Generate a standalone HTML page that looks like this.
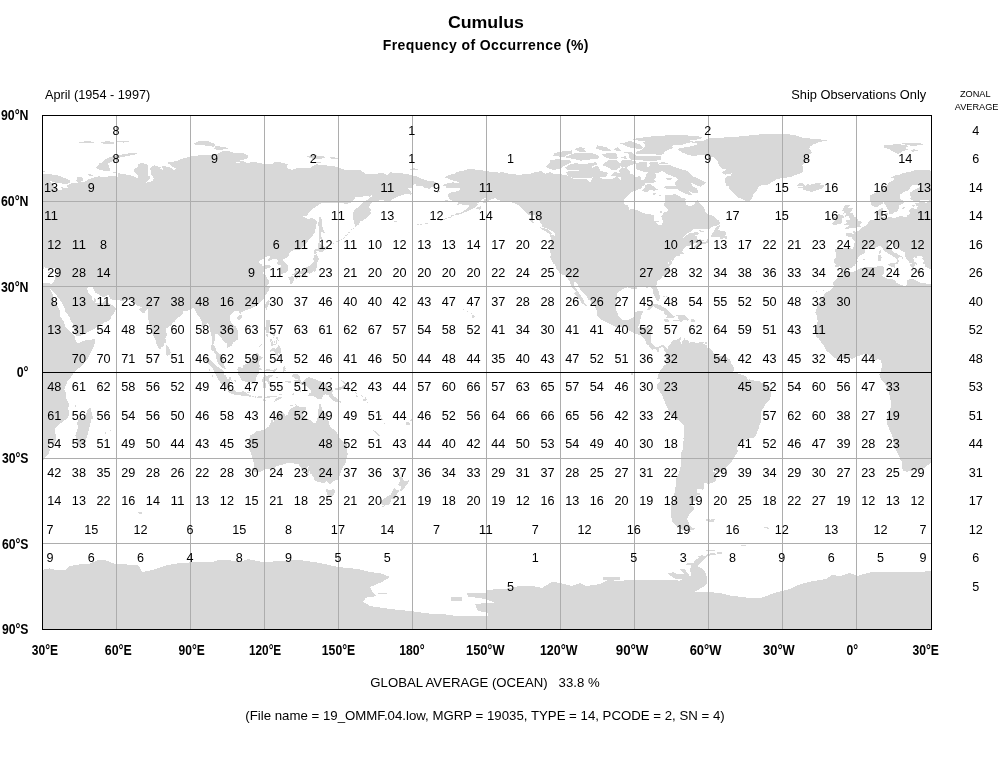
<!DOCTYPE html>
<html><head><meta charset="utf-8"><title>Cumulus</title>
<style>
html,body{margin:0;padding:0;background:#fff;}
body{width:998px;height:760px;overflow:hidden;position:relative;font-family:"Liberation Sans",sans-serif;}
svg{position:absolute;left:0;top:0;will-change:transform;}
text{font-family:"Liberation Sans",sans-serif;fill:#000;}
.num text{font-size:12px;text-anchor:middle;}
.ax text{font-size:13.8px;font-weight:bold;}
</style></head><body>
<svg width="998" height="760" viewBox="0 0 998 760">
<defs><clipPath id="c"><rect x="42.5" y="115.5" width="889.0" height="514.0"/></clipPath></defs>
<rect x="0" y="0" width="998" height="760" fill="#fff"/>
<g clip-path="url(#c)" shape-rendering="crispEdges"><path fill="#d8d8d8" d="M48.2,283.1L51.1,283.7L52.9,283.1L54.4,280.8L54.8,278.8L56.1,275.7L57.1,273.7L56.8,270.8L57.8,268.0L55.8,268.0L53.9,267.4L51.6,269.1L49.4,269.7L47.4,268.3L44.2,267.1L43.5,268.8L40.5,268.8L38.3,267.4L36.1,266.8L35.6,264.3L33.4,263.1L34.8,261.1L34.4,259.7L33.1,258.3L35.1,257.1L33.1,256.6L32.4,256.0L28.7,255.7L27.4,257.1L28.4,258.0L26.2,257.7L25.0,256.6L24.2,258.3L25.2,260.3L25.0,261.4L26.7,262.6L27.9,263.4L27.7,264.8L26.7,264.0L25.5,265.1L25.7,266.0L24.7,265.7L25.7,268.6L24.0,268.6L23.2,267.1L22.0,267.4L21.0,264.8L22.0,263.4L24.7,264.0L20.5,262.8L19.5,261.4L18.1,259.4L16.3,256.9L16.3,254.6L16.1,252.9L13.1,250.9L8.9,248.3L6.0,246.6L5.0,244.0L4.0,243.1L2.7,244.6L2.0,242.6L2.5,242.0L-1.2,242.9L-0.7,244.3L-1.2,246.0L-0.5,246.9L1.8,248.0L3.5,251.1L6.0,252.9L8.4,252.9L7.7,254.0L10.2,255.1L12.9,256.6L14.1,258.0L13.6,258.8L12.6,257.4L10.9,256.9L9.4,258.3L9.4,259.4L10.6,260.8L9.2,262.6L8.2,264.3L6.9,264.0L7.7,262.0L8.2,260.3L7.2,258.3L5.2,257.1L3.7,256.0L2.0,254.9L-1.5,253.4L-2.4,252.3L-5.7,250.0L-6.1,248.3L-7.4,246.6L-9.6,245.7L-11.3,246.9L-13.6,247.7L-17.0,249.4L-18.5,248.9L-19.7,248.6L-22.0,248.3L-24.2,249.4L-23.9,251.1L-23.4,252.0L-26.2,254.3L-28.6,255.1L-29.6,256.3L-32.3,259.7L-31.1,262.0L-32.8,263.1L-33.8,265.1L-37.0,267.7L-42.4,267.7L-44.9,269.4L-45.4,269.7L-47.1,268.3L-48.9,266.3L-51.1,266.8L-53.8,266.8L-53.3,264.0L-55.0,262.0L-54.8,260.0L-53.3,257.4L-53.1,255.1L-53.3,252.0L-54.5,250.0L-52.3,248.6L-51.1,247.4L-45.7,248.0L-41.0,248.3L-36.0,248.6L-34.8,244.9L-34.3,242.3L-34.5,240.6L-36.8,238.9L-37.3,237.4L-39.2,236.9L-42.4,236.0L-43.4,234.3L-42.4,233.4L-39.0,233.1L-36.5,233.7L-35.3,233.7L-36.0,230.6L-34.5,230.6L-34.3,231.7L-32.3,231.7L-31.3,231.2L-28.9,230.0L-27.6,227.7L-26.9,226.9L-24.4,226.3L-22.7,225.7L-21.7,224.0L-20.0,221.4L-18.2,220.3L-14.5,220.0L-13.8,219.4L-11.6,219.4L-10.1,218.6L-9.6,217.4L-10.3,215.7L-11.3,214.0L-11.6,211.2L-10.3,209.4L-5.4,207.7L-5.7,209.7L-6.1,210.9L-4.7,211.4L-6.4,212.9L-7.9,214.0L-7.9,216.0L-6.6,217.2L-4.2,217.2L-4.7,218.3L-1.7,217.7L2.0,216.6L3.7,218.6L6.9,217.7L10.4,216.3L13.6,216.0L14.6,217.2L17.6,216.9L17.6,215.7L20.5,214.3L20.5,212.3L20.3,210.3L21.5,208.6L24.2,207.7L25.7,209.2L27.9,209.4L28.9,206.3L26.7,205.2L26.4,203.5L29.4,202.6L32.6,202.3L37.6,202.6L41.3,201.2L39.3,199.5L33.9,200.0L30.2,200.6L25.2,201.7L23.5,200.3L21.0,198.9L21.8,196.9L21.0,194.3L21.5,192.3L24.2,190.6L28.4,188.0L31.1,186.9L30.6,185.2L27.9,184.6L23.2,185.2L21.0,187.7L19.8,190.0L16.1,191.5L13.4,193.2L11.4,194.3L10.9,198.6L14.3,200.6L15.1,202.3L12.9,204.0L10.6,204.9L9.7,205.7L9.7,208.0L8.9,210.9L6.9,212.3L4.5,212.6L3.7,213.7L1.3,214.3L0.3,213.7L-0.5,212.0L0.0,210.6L-2.2,208.0L-3.9,204.3L-5.4,203.2L-5.2,201.7L-6.1,203.5L-7.9,204.3L-11.3,206.6L-14.3,206.9L-17.5,204.9L-18.2,202.9L-18.7,200.0L-19.5,197.7L-19.0,195.5L-16.3,194.0L-12.6,192.3L-10.3,191.5L-7.4,190.3L-4.9,188.0L-2.0,186.0L-0.7,183.5L1.3,181.7L4.0,180.3L5.5,178.3L3.0,177.8L1.0,178.3L4.5,176.3L6.4,174.9L10.4,174.9L14.1,173.2L17.8,172.3L21.5,171.8L25.2,170.3L29.2,169.8L32.1,169.5L36.8,169.8L41.3,170.6L45.0,171.5L42.0,172.3L43.0,173.5L46.5,173.5L50.2,174.3L54.8,174.9L59.3,175.8L63.5,177.5L67.2,179.2L69.9,180.6L70.2,182.3L67.7,183.5L63.5,183.7L58.6,183.2L54.4,182.3L49.7,180.9L51.1,182.3L54.1,184.3L54.4,188.0L58.6,189.7L61.8,190.0L62.7,188.6L59.3,186.9L63.5,187.5L67.7,188.0L66.9,185.5L70.9,183.5L72.9,182.6L76.6,183.5L77.8,182.3L76.3,180.3L77.6,178.3L75.6,176.6L80.3,176.6L82.8,178.3L82.5,181.5L79.5,181.2L82.8,182.0L86.2,181.2L88.4,179.2L93.1,177.8L99.3,176.3L101.8,177.5L104.2,176.9L110.4,176.3L114.6,175.8L117.8,176.9L117.8,173.2L124.0,174.3L128.4,174.9L133.4,176.3L137.6,178.0L138.8,175.8L135.8,173.8L133.4,170.9L134.6,168.9L137.6,167.2L138.3,164.6L141.3,162.9L147.7,164.6L148.2,168.3L147.5,171.2L147.9,175.5L150.2,176.9L149.2,179.8L146.2,182.6L152.4,181.2L153.6,178.3L152.4,175.5L150.7,174.3L151.2,170.3L149.4,168.3L154.4,165.2L158.1,166.6L161.0,166.9L159.8,168.9L163.5,169.8L161.8,166.3L167.9,166.6L172.9,168.9L174.1,171.2L175.8,168.3L172.1,166.3L167.2,162.6L175.8,161.2L183.3,158.3L190.7,156.6L200.5,155.2L210.4,154.6L216.6,154.1L221.5,151.5L226.0,150.6L231.4,151.8L233.9,153.2L243.8,153.5L248.7,155.8L248.0,158.3L240.1,160.6L245.0,161.8L235.1,162.6L232.6,163.5L241.3,162.3L248.7,162.6L254.9,162.0L261.0,163.2L264.3,164.0L272.2,164.0L274.6,162.0L282.0,162.6L287.7,164.3L287.0,167.2L286.7,168.0L291.9,170.0L296.9,168.3L296.4,167.5L304.3,168.3L309.2,168.3L313.4,165.8L315.9,164.3L321.5,164.9L329.0,165.8L337.6,166.9L340.1,168.3L345.0,169.8L353.6,169.5L361.1,170.3L364.8,173.5L368.5,173.8L375.9,173.8L383.3,172.6L387.0,175.5L389.7,172.3L395.6,172.9L403.0,173.5L408.0,174.3L412.9,175.5L416.6,176.3L422.8,179.2L427.7,180.9L433.9,181.5L438.4,183.7L435.1,185.5L431.4,187.5L429.7,188.9L424.0,187.5L422.8,185.5L416.6,185.7L415.4,183.5L411.7,186.0L412.4,187.5L406.7,187.7L409.2,189.7L411.7,192.9L411.2,194.6L405.5,194.0L399.3,196.0L394.4,198.3L389.2,201.5L380.8,200.0L375.9,201.2L372.2,201.7L370.4,204.6L368.5,207.4L371.4,209.2L369.9,212.0L371.7,212.6L368.5,216.0L363.5,220.3L360.1,221.2L359.3,224.0L355.4,227.2L354.1,222.6L352.7,216.9L352.7,212.6L354.9,209.7L358.6,206.9L363.0,202.6L368.0,199.5L371.9,196.3L373.4,194.3L369.7,196.6L364.3,195.7L362.3,196.6L356.1,196.6L351.2,202.6L346.2,204.0L341.3,202.6L335.1,203.2L327.7,202.9L322.0,202.9L315.4,206.9L310.4,210.6L307.2,215.4L303.0,216.6L306.7,218.3L308.0,219.4L311.7,217.7L314.9,219.4L317.3,221.2L317.1,223.2L316.1,225.4L315.4,229.7L314.9,232.6L311.7,236.9L309.2,239.7L305.5,244.0L303.0,246.9L299.3,249.7L296.6,250.3L294.1,249.4L291.2,251.7L289.0,253.1L288.7,255.7L285.7,258.3L283.5,258.8L283.0,260.6L285.5,262.6L287.7,265.4L288.2,269.7L287.0,272.3L283.8,273.4L280.8,274.3L280.6,273.1L280.8,269.7L280.3,267.4L281.0,265.4L278.3,264.6L276.6,264.0L277.6,262.0L277.8,260.0L275.6,258.6L272.2,259.4L268.7,261.4L268.0,259.7L270.2,256.9L268.5,255.7L267.2,256.0L263.8,258.6L259.8,260.6L259.1,262.6L262.0,264.8L262.3,266.3L264.3,266.0L266.5,264.6L268.2,265.1L270.9,265.7L270.9,267.1L267.2,268.3L265.5,269.4L263.0,272.6L263.0,273.4L265.5,275.4L267.0,278.3L269.2,281.4L269.4,283.4L267.2,285.4L269.7,287.1L269.2,289.7L267.2,292.5L264.8,296.3L263.8,298.3L262.3,300.5L260.1,302.5L256.6,306.0L252.4,307.7L250.4,308.8L248.7,309.1L245.0,310.5L241.3,312.0L241.0,314.5L239.6,314.2L239.3,311.4L237.6,311.1L235.1,310.8L232.2,313.1L230.2,315.7L229.7,318.8L231.4,322.5L234.1,325.4L235.9,326.5L237.6,329.7L238.3,333.1L238.3,337.4L237.6,339.7L232.9,342.8L231.9,345.4L228.9,346.8L227.2,347.9L227.5,343.9L226.5,342.8L224.3,342.2L222.8,340.5L221.5,337.7L219.1,336.2L217.6,334.2L216.6,333.9L215.4,334.5L215.1,337.4L214.9,339.7L213.6,342.5L213.4,345.4L215.1,346.2L215.6,348.5L216.8,351.9L218.6,352.8L221.0,354.8L223.3,357.4L223.8,361.6L224.3,365.1L225.7,368.5L224.0,368.8L220.8,366.2L218.6,363.9L217.1,361.1L216.1,357.1L216.1,354.8L214.9,353.7L213.6,351.1L211.2,349.9L211.2,346.8L211.9,343.9L211.9,337.1L210.7,332.5L209.7,328.8L209.4,325.4L207.7,323.1L206.0,324.8L203.8,327.4L201.3,326.8L201.8,322.5L201.3,319.7L199.3,317.1L197.8,315.1L195.6,311.4L195.1,308.8L191.9,308.2L190.7,309.7L188.2,310.5L185.7,310.5L183.3,311.4L182.5,314.5L180.3,316.0L178.3,317.4L174.1,322.0L171.7,324.0L171.7,325.1L168.9,326.8L168.2,327.7L166.2,328.2L166.7,335.1L165.5,338.5L165.7,343.1L164.0,343.1L163.5,345.9L161.5,347.4L159.8,349.4L158.3,348.2L156.6,343.9L155.6,340.2L153.1,335.7L150.7,328.2L149.4,324.0L148.2,318.2L148.2,314.2L147.9,312.2L147.7,309.1L146.7,310.2L143.7,313.4L142.3,312.8L140.3,310.8L138.8,308.8L141.8,307.7L141.3,306.8L137.8,306.0L136.8,304.8L135.1,304.3L133.9,301.7L132.9,300.3L127.9,300.5L125.2,300.3L122.3,300.8L118.1,300.3L114.1,300.0L111.2,299.4L109.9,298.3L108.9,295.1L107.4,294.8L105.5,296.3L104.0,296.8L100.5,296.3L98.3,294.3L95.6,292.8L93.9,290.0L92.4,286.8L89.4,285.7L88.4,287.1L87.0,288.5L87.9,291.1L88.9,293.4L91.1,295.4L92.1,297.1L92.4,299.4L93.9,301.7L93.9,299.7L94.4,298.0L95.8,298.8L95.8,302.0L95.1,303.1L98.3,303.4L102.8,302.5L105.0,300.3L106.7,298.5L107.7,297.4L107.7,301.1L108.4,302.8L110.7,304.5L113.1,305.1L116.1,308.2L115.1,311.4L113.1,314.2L111.2,316.5L110.9,318.5L107.9,321.1L105.0,322.2L102.0,324.0L97.3,326.8L94.4,329.1L89.7,331.1L85.5,333.7L79.5,335.9L75.8,336.2L75.1,334.5L74.4,330.2L73.9,325.7L73.4,324.2L70.9,321.1L69.7,317.7L67.7,314.5L65.2,311.1L64.5,308.2L62.3,303.7L60.3,300.5L58.3,297.7L55.6,293.7L53.9,292.0L48.9,287.0Z M937.2,283.1L940.1,283.7L941.9,283.1L943.4,280.8L943.8,278.8L945.1,275.7L946.1,273.7L945.8,270.8L946.8,268.0L944.8,268.0L942.9,267.4L940.6,269.1L938.4,269.7L936.4,268.3L933.2,267.1L932.5,268.8L929.5,268.8L927.3,267.4L925.1,266.8L924.6,264.3L922.4,263.1L923.8,261.1L923.4,259.7L922.1,258.3L924.1,257.1L922.1,256.6L921.4,256.0L917.7,255.7L916.4,257.1L917.4,258.0L915.2,257.7L914.0,256.6L913.2,258.3L914.2,260.3L914.0,261.4L915.7,262.6L916.9,263.4L916.7,264.8L915.7,264.0L914.5,265.1L914.7,266.0L913.7,265.7L914.7,268.6L913.0,268.6L912.2,267.1L911.0,267.4L910.0,264.8L911.0,263.4L913.7,264.0L909.5,262.8L908.5,261.4L907.1,259.4L905.3,256.9L905.3,254.6L905.1,252.9L902.1,250.9L897.9,248.3L895.0,246.6L894.0,244.0L893.0,243.1L891.7,244.6L891.0,242.6L891.5,242.0L887.8,242.9L888.3,244.3L887.8,246.0L888.5,246.9L890.8,248.0L892.5,251.1L895.0,252.9L897.4,252.9L896.7,254.0L899.2,255.1L901.9,256.6L903.1,258.0L902.6,258.8L901.6,257.4L899.9,256.9L898.4,258.3L898.4,259.4L899.6,260.8L898.2,262.6L897.2,264.3L895.9,264.0L896.7,262.0L897.2,260.3L896.2,258.3L894.2,257.1L892.7,256.0L891.0,254.9L887.5,253.4L886.6,252.3L883.3,250.0L882.9,248.3L881.6,246.6L879.4,245.7L877.7,246.9L875.4,247.7L872.0,249.4L870.5,248.9L869.3,248.6L867.0,248.3L864.8,249.4L865.1,251.1L865.6,252.0L862.8,254.3L860.4,255.1L859.4,256.3L856.7,259.7L857.9,262.0L856.2,263.1L855.2,265.1L852.0,267.7L846.6,267.7L844.1,269.4L843.6,269.7L841.9,268.3L840.1,266.3L837.9,266.8L835.2,266.8L835.7,264.0L834.0,262.0L834.2,260.0L835.7,257.4L835.9,255.1L835.7,252.0L834.5,250.0L836.7,248.6L837.9,247.4L843.3,248.0L848.0,248.3L853.0,248.6L854.2,244.9L854.7,242.3L854.5,240.6L852.2,238.9L851.7,237.4L849.8,236.9L846.6,236.0L845.6,234.3L846.6,233.4L850.0,233.1L852.5,233.7L853.7,233.7L853.0,230.6L854.5,230.6L854.7,231.7L856.7,231.7L857.7,231.2L860.1,230.0L861.4,227.7L862.1,226.9L864.6,226.3L866.3,225.7L867.3,224.0L869.0,221.4L870.8,220.3L874.5,220.0L875.2,219.4L877.4,219.4L878.9,218.6L879.4,217.4L878.7,215.7L877.7,214.0L877.4,211.2L878.7,209.4L883.6,207.7L883.3,209.7L882.9,210.9L884.3,211.4L882.6,212.9L881.1,214.0L881.1,216.0L882.4,217.2L884.8,217.2L884.3,218.3L887.3,217.7L891.0,216.6L892.7,218.6L895.9,217.7L899.4,216.3L902.6,216.0L903.6,217.2L906.6,216.9L906.6,215.7L909.5,214.3L909.5,212.3L909.3,210.3L910.5,208.6L913.2,207.7L914.7,209.2L916.9,209.4L917.9,206.3L915.7,205.2L915.4,203.5L918.4,202.6L921.6,202.3L926.6,202.6L930.3,201.2L928.3,199.5L922.9,200.0L919.2,200.6L914.2,201.7L912.5,200.3L910.0,198.9L910.8,196.9L910.0,194.3L910.5,192.3L913.2,190.6L917.4,188.0L920.1,186.9L919.6,185.2L916.9,184.6L912.2,185.2L910.0,187.7L908.8,190.0L905.1,191.5L902.4,193.2L900.4,194.3L899.9,198.6L903.3,200.6L904.1,202.3L901.9,204.0L899.6,204.9L898.7,205.7L898.7,208.0L897.9,210.9L895.9,212.3L893.5,212.6L892.7,213.7L890.3,214.3L889.3,213.7L888.5,212.0L889.0,210.6L886.8,208.0L885.1,204.3L883.6,203.2L883.8,201.7L882.9,203.5L881.1,204.3L877.7,206.6L874.7,206.9L871.5,204.9L870.8,202.9L870.3,200.0L869.5,197.7L870.0,195.5L872.7,194.0L876.4,192.3L878.7,191.5L881.6,190.3L884.1,188.0L887.0,186.0L888.3,183.5L890.3,181.7L893.0,180.3L894.5,178.3L892.0,177.8L890.0,178.3L893.5,176.3L895.4,174.9L899.4,174.9L903.1,173.2L906.8,172.3L910.5,171.8L914.2,170.3L918.2,169.8L921.1,169.5L925.8,169.8L930.3,170.6L934.0,171.5L931.0,172.3L932.0,173.5L935.5,173.5L939.2,174.3L943.8,174.9L948.3,175.8L952.5,177.5L956.2,179.2L958.9,180.6L959.2,182.3L956.7,183.5L952.5,183.7L947.6,183.2L943.4,182.3L938.7,180.9L940.1,182.3L943.1,184.3L943.4,188.0L947.6,189.7L950.8,190.0L951.7,188.6L948.3,186.9L952.5,187.5L956.7,188.0L955.9,185.5L959.9,183.5L961.9,182.6L965.6,183.5L966.8,182.3L965.3,180.3L966.6,178.3L964.6,176.6L969.3,176.6L971.8,178.3L971.5,181.5L968.5,181.2L971.8,182.0L975.2,181.2L977.4,179.2L982.1,177.8L988.3,176.3L990.8,177.5L993.2,176.9L999.4,176.3L1003.6,175.8L1006.8,176.9L1006.8,173.2L1013.0,174.3L1017.4,174.9L1022.4,176.3L1026.6,178.0L1027.8,175.8L1024.8,173.8L1022.4,170.9L1023.6,168.9L1026.6,167.2L1027.3,164.6L1030.3,162.9L1036.7,164.6L1037.2,168.3L1036.5,171.2L1036.9,175.5L1039.2,176.9L1038.2,179.8L1035.2,182.6L1041.4,181.2L1042.6,178.3L1041.4,175.5L1039.7,174.3L1040.2,170.3L1038.4,168.3L1043.4,165.2L1047.1,166.6L1050.0,166.9L1048.8,168.9L1052.5,169.8L1050.8,166.3L1056.9,166.6L1061.9,168.9L1063.1,171.2L1064.8,168.3L1061.1,166.3L1056.2,162.6L1064.8,161.2L1072.3,158.3L1079.7,156.6L1089.5,155.2L1099.4,154.6L1105.6,154.1L1110.5,151.5L1115.0,150.6L1120.4,151.8L1122.9,153.2L1132.8,153.5L1137.7,155.8L1137.0,158.3L1129.1,160.6L1134.0,161.8L1124.1,162.6L1121.6,163.5L1130.3,162.3L1137.7,162.6L1143.9,162.0L1150.0,163.2L1153.3,164.0L1161.2,164.0L1163.6,162.0L1171.0,162.6L1176.7,164.3L1176.0,167.2L1175.7,168.0L1180.9,170.0L1185.9,168.3L1185.4,167.5L1193.3,168.3L1198.2,168.3L1202.4,165.8L1204.9,164.3L1210.5,164.9L1218.0,165.8L1226.6,166.9L1229.1,168.3L1234.0,169.8L1242.7,169.5L1250.1,170.3L1253.8,173.5L1257.5,173.8L1264.9,173.8L1272.3,172.6L1276.0,175.5L1278.7,172.3L1284.6,172.9L1292.0,173.5L1297.0,174.3L1301.9,175.5L1305.6,176.3L1311.8,179.2L1316.7,180.9L1322.9,181.5L1327.4,183.7L1324.1,185.5L1320.4,187.5L1318.7,188.9L1313.0,187.5L1311.8,185.5L1305.6,185.7L1304.4,183.5L1300.7,186.0L1301.4,187.5L1295.7,187.7L1298.2,189.7L1300.7,192.9L1300.2,194.6L1294.5,194.0L1288.3,196.0L1283.4,198.3L1278.2,201.5L1269.8,200.0L1264.9,201.2L1261.2,201.7L1259.4,204.6L1257.5,207.4L1260.4,209.2L1258.9,212.0L1260.7,212.6L1257.5,216.0L1252.5,220.3L1249.1,221.2L1248.3,224.0L1244.4,227.2L1243.1,222.6L1241.7,216.9L1241.7,212.6L1243.9,209.7L1247.6,206.9L1252.0,202.6L1257.0,199.5L1260.9,196.3L1262.4,194.3L1258.7,196.6L1253.3,195.7L1251.3,196.6L1245.1,196.6L1240.2,202.6L1235.2,204.0L1230.3,202.6L1224.1,203.2L1216.7,202.9L1211.0,202.9L1204.4,206.9L1199.4,210.6L1196.2,215.4L1192.0,216.6L1195.7,218.3L1197.0,219.4L1200.7,217.7L1203.9,219.4L1206.3,221.2L1206.1,223.2L1205.1,225.4L1204.4,229.7L1203.9,232.6L1200.7,236.9L1198.2,239.7L1194.5,244.0L1192.0,246.9L1188.3,249.7L1185.6,250.3L1183.1,249.4L1180.2,251.7L1178.0,253.1L1177.7,255.7L1174.7,258.3L1172.5,258.8L1172.0,260.6L1174.5,262.6L1176.7,265.4L1177.2,269.7L1176.0,272.3L1172.8,273.4L1169.8,274.3L1169.6,273.1L1169.8,269.7L1169.3,267.4L1170.0,265.4L1167.3,264.6L1165.6,264.0L1166.6,262.0L1166.8,260.0L1164.6,258.6L1161.2,259.4L1157.7,261.4L1157.0,259.7L1159.2,256.9L1157.5,255.7L1156.2,256.0L1152.8,258.6L1148.8,260.6L1148.1,262.6L1151.0,264.8L1151.3,266.3L1153.3,266.0L1155.5,264.6L1157.2,265.1L1159.9,265.7L1159.9,267.1L1156.2,268.3L1154.5,269.4L1152.0,272.6L1152.0,273.4L1154.5,275.4L1156.0,278.3L1158.2,281.4L1158.4,283.4L1156.2,285.4L1158.7,287.1L1158.2,289.7L1156.2,292.5L1153.8,296.3L1152.8,298.3L1151.3,300.5L1149.1,302.5L1145.6,306.0L1141.4,307.7L1139.4,308.8L1137.7,309.1L1134.0,310.5L1130.3,312.0L1130.0,314.5L1128.6,314.2L1128.3,311.4L1126.6,311.1L1124.1,310.8L1121.2,313.1L1119.2,315.7L1118.7,318.8L1120.4,322.5L1123.1,325.4L1124.9,326.5L1126.6,329.7L1127.3,333.1L1127.3,337.4L1126.6,339.7L1121.9,342.8L1120.9,345.4L1117.9,346.8L1116.2,347.9L1116.5,343.9L1115.5,342.8L1113.3,342.2L1111.8,340.5L1110.5,337.7L1108.1,336.2L1106.6,334.2L1105.6,333.9L1104.4,334.5L1104.1,337.4L1103.9,339.7L1102.6,342.5L1102.4,345.4L1104.1,346.2L1104.6,348.5L1105.8,351.9L1107.6,352.8L1110.0,354.8L1112.3,357.4L1112.8,361.6L1113.3,365.1L1114.7,368.5L1113.0,368.8L1109.8,366.2L1107.6,363.9L1106.1,361.1L1105.1,357.1L1105.1,354.8L1103.9,353.7L1102.6,351.1L1100.2,349.9L1100.2,346.8L1100.9,343.9L1100.9,337.1L1099.7,332.5L1098.7,328.8L1098.4,325.4L1096.7,323.1L1095.0,324.8L1092.8,327.4L1090.3,326.8L1090.8,322.5L1090.3,319.7L1088.3,317.1L1086.8,315.1L1084.6,311.4L1084.1,308.8L1080.9,308.2L1079.7,309.7L1077.2,310.5L1074.7,310.5L1072.3,311.4L1071.5,314.5L1069.3,316.0L1067.3,317.4L1063.1,322.0L1060.7,324.0L1060.7,325.1L1057.9,326.8L1057.2,327.7L1055.2,328.2L1055.7,335.1L1054.5,338.5L1054.7,343.1L1053.0,343.1L1052.5,345.9L1050.5,347.4L1048.8,349.4L1047.3,348.2L1045.6,343.9L1044.6,340.2L1042.1,335.7L1039.7,328.2L1038.4,324.0L1037.2,318.2L1037.2,314.2L1036.9,312.2L1036.7,309.1L1035.7,310.2L1032.7,313.4L1031.3,312.8L1029.3,310.8L1027.8,308.8L1030.8,307.7L1030.3,306.8L1026.8,306.0L1025.8,304.8L1024.1,304.3L1022.9,301.7L1021.9,300.3L1016.9,300.5L1014.2,300.3L1011.3,300.8L1007.1,300.3L1003.1,300.0L1000.2,299.4L998.9,298.3L997.9,295.1L996.4,294.8L994.5,296.3L993.0,296.8L989.5,296.3L987.3,294.3L984.6,292.8L982.9,290.0L981.4,286.8L978.4,285.7L977.4,287.1L976.0,288.5L976.9,291.1L977.9,293.4L980.1,295.4L981.1,297.1L981.4,299.4L982.9,301.7L982.9,299.7L983.4,298.0L984.8,298.8L984.8,302.0L984.1,303.1L987.3,303.4L991.8,302.5L994.0,300.3L995.7,298.5L996.7,297.4L996.7,301.1L997.4,302.8L999.7,304.5L1002.1,305.1L1005.1,308.2L1004.1,311.4L1002.1,314.2L1000.2,316.5L999.9,318.5L996.9,321.1L994.0,322.2L991.0,324.0L986.3,326.8L983.4,329.1L978.7,331.1L974.5,333.7L968.5,335.9L964.8,336.2L964.1,334.5L963.4,330.2L962.9,325.7L962.4,324.2L959.9,321.1L958.7,317.7L956.7,314.5L954.2,311.1L953.5,308.2L951.3,303.7L949.3,300.5L947.3,297.7L944.6,293.7L942.9,292.0L937.9,287.0Z M843.3,229.4L848.5,228.9L849.0,228.0L851.5,228.0L854.2,227.7L857.2,227.4L859.9,227.2L860.9,226.3L860.9,225.7L858.9,225.4L859.9,224.6L860.6,224.0L861.9,222.6L860.6,221.4L858.2,221.4L858.4,220.6L857.7,219.4L857.2,218.0L855.9,216.9L854.5,216.6L854.0,215.4L852.5,213.2L850.0,212.6L851.0,211.7L852.2,209.4L853.0,208.3L852.5,207.7L847.5,208.0L847.8,207.2L849.8,205.7L850.0,205.2L845.1,205.2L844.3,206.3L844.6,207.2L843.1,208.3L843.1,209.7L842.1,210.6L843.8,211.4L843.3,214.3L844.3,213.4L845.3,212.9L845.8,214.0L844.8,215.7L845.3,216.6L848.8,215.7L848.5,216.9L849.5,218.0L850.3,218.0L849.8,218.9L849.8,220.0L846.1,220.3L845.8,221.7L847.3,222.6L847.3,223.2L845.8,223.7L844.3,224.3L844.8,224.9L847.5,225.2L849.5,225.7L850.7,225.2L850.0,226.3L848.8,226.3L846.3,226.9L846.1,227.4L845.1,228.3Z M839.1,214.3L842.4,214.9L843.6,216.6L843.8,217.4L841.9,218.3L842.4,220.3L842.6,221.2L841.6,223.4L840.1,223.7L836.9,224.6L833.2,225.4L832.0,223.7L833.5,222.3L835.2,220.6L832.2,220.0L832.5,218.3L832.7,217.4L836.2,217.4L836.9,216.6L835.9,216.3L836.9,214.9Z M796.9,185.5L799.4,183.5L801.9,182.6L804.6,185.2L805.6,185.7L807.3,183.7L810.5,184.9L812.5,183.5L815.4,183.5L817.2,182.6L821.4,182.9L820.4,184.6L823.8,185.5L824.1,186.9L821.6,188.6L819.9,188.9L816.7,190.3L813.0,191.5L810.5,191.5L807.5,191.2L805.1,190.0L801.4,190.3L803.1,189.2L802.3,188.0L798.1,187.5L803.1,186.6L802.6,185.7Z M884.6,145.2L883.8,147.5L890.8,149.8L892.0,151.2L898.2,153.8L900.6,152.6L903.1,150.9L909.3,149.2L904.3,148.1L909.3,145.8L901.9,144.6L896.9,144.1L892.0,144.6Z M901.9,143.5L905.6,144.9L914.2,146.1L924.1,144.3L919.2,142.9L906.8,142.6Z M910.5,150.3L913.0,151.8L917.9,150.6L914.2,149.2Z M95.6,168.0L98.1,165.2L99.3,163.5L103.0,162.0L105.5,159.2L107.9,157.8L114.1,155.8L121.5,154.6L130.2,153.2L137.6,152.9L136.3,154.3L127.7,156.0L119.1,157.8L115.3,159.8L111.6,161.8L107.9,163.5L109.2,166.9L110.4,169.8L109.7,170.9L104.2,170.9L100.5,170.0Z M87.7,174.6L90.7,174.0L92.6,175.5L89.9,176.3Z M112.9,172.0L117.3,171.8L116.6,173.2L114.1,173.5Z M78.1,142.3L87.0,141.2L95.6,141.8L91.9,143.5L83.2,143.2Z M100.5,142.6L106.7,141.2L113.4,141.8L114.1,143.5L104.2,143.8Z M116.6,141.5L122.8,140.6L128.9,141.5L124.0,142.6Z M193.1,144.1L199.3,140.6L208.0,141.2L215.4,144.1L214.1,146.9L205.5,145.5L198.1,145.2Z M215.4,146.1L225.2,146.9L228.9,148.9L217.8,150.1L214.1,148.9Z M306.7,156.0L314.1,155.2L322.8,156.0L326.5,157.2L321.5,158.6L314.1,158.9L309.2,157.8Z M330.2,157.2L340.1,157.8L338.8,158.9L331.4,158.6Z M314.1,161.5L319.1,161.8L322.8,163.2L315.4,162.9Z M409.2,169.8L412.9,168.3L417.9,168.9L418.6,169.8L412.9,170.3Z M319.1,217.4L321.1,217.2L322.3,221.2L322.3,225.4L323.0,229.7L325.5,233.1L321.5,232.0L321.1,236.9L322.8,238.9L322.5,240.9L320.8,239.1L319.1,241.4L318.8,238.9L319.3,234.0L319.1,229.7L318.3,224.9L318.6,220.3Z M314.1,254.3L315.9,253.4L317.1,253.1L316.6,251.7L314.9,251.1L318.1,250.9L322.0,252.6L325.0,249.7L328.5,248.9L327.2,246.0L324.8,246.9L322.5,245.7L319.1,242.6L318.3,242.9L318.1,247.1L317.3,249.1L315.1,248.9L313.6,250.9L313.9,252.6Z M316.6,254.0L317.8,256.9L319.1,259.4L316.6,263.1L316.6,266.8L316.4,270.6L314.1,272.6L313.6,271.1L312.2,272.0L311.4,273.7L310.4,272.6L309.7,273.7L306.2,273.1L306.5,274.6L303.8,277.1L302.0,274.8L302.8,273.7L299.3,273.7L295.4,274.6L291.7,275.7L291.9,274.3L292.9,274.3L295.6,271.4L296.9,271.1L299.8,271.1L303.0,270.8L304.3,269.7L306.0,267.4L307.5,265.4L306.7,266.8L307.2,267.4L311.7,264.0L313.6,261.4L313.4,258.6L314.1,256.0L314.9,254.9L316.1,255.7Z M291.7,275.7L293.6,276.6L294.4,278.8L293.1,281.4L292.7,282.8L291.2,284.0L289.9,283.1L289.9,280.6L288.7,279.1L288.2,277.4L290.4,276.6Z M294.4,277.4L296.1,275.7L299.3,274.3L300.8,274.8L299.8,277.7L298.1,276.8L296.9,279.1L295.6,277.7Z M268.5,300.3L269.7,301.1L268.7,304.0L267.2,308.0L266.7,310.0L265.2,307.4L265.0,305.4L267.2,301.1Z M236.8,317.7L238.8,320.5L241.3,318.8L242.5,316.2L241.3,315.1L238.3,315.7Z M166.0,344.5L168.2,347.1L168.9,347.9L170.2,350.5L170.7,352.5L170.2,354.2L167.5,355.7L166.5,355.4L165.5,352.8L165.5,349.7L165.7,346.8Z M878.7,251.4L880.6,249.7L880.9,252.6L880.1,254.3L878.7,252.9Z M877.7,255.7L880.1,254.9L881.6,256.9L881.1,260.6L879.6,260.8L878.2,261.1L878.2,258.3Z M888.0,264.0L890.5,263.4L895.9,263.1L895.0,266.0L894.7,267.7L892.7,267.1L888.3,265.1Z M915.4,271.1L917.9,271.4L922.4,271.7L922.1,272.6L917.9,272.8L915.4,272.0Z M48.2,272.6L49.9,271.4L53.9,270.6L52.4,272.6L49.9,273.7Z M863.1,259.4L865.1,258.6L865.8,259.1L864.8,260.3Z M884.6,213.4L887.0,212.3L888.5,213.4L887.3,215.2L885.1,214.9Z M881.6,214.0L883.8,214.0L883.8,215.2L882.1,215.2Z M902.1,208.9L903.8,207.2L904.6,207.4L902.9,209.7Z M911.3,206.0L913.0,205.2L915.0,205.4L913.5,206.6Z M327.7,246.7L330.2,245.9L330.2,245.0L327.7,245.9Z M331.7,244.7L334.1,243.9L334.1,243.0L331.7,243.9Z M336.4,242.1L338.8,241.3L338.8,240.4L336.4,241.3Z M339.1,241.0L341.5,240.1L341.5,239.3L339.1,240.1Z M342.5,239.0L345.0,238.1L345.0,237.3L342.5,238.1Z M345.3,236.1L347.7,235.3L347.7,234.4L345.3,235.3Z M347.5,233.6L349.9,232.7L349.9,231.9L347.5,232.7Z M351.2,229.9L353.6,229.0L353.6,228.2L351.2,229.0Z M-46.2,270.3L-42.7,272.0L-39.0,271.7L-36.5,272.3L-33.1,270.6L-29.1,268.3L-24.2,267.4L-19.2,267.4L-14.3,266.8L-7.4,266.0L-4.4,266.8L-5.4,268.6L-4.9,273.4L-6.9,275.7L-4.4,277.4L-2.0,278.6L1.0,278.6L6.0,280.0L7.2,282.8L12.9,285.4L16.6,285.7L17.8,284.3L17.8,280.8L21.5,278.6L24.2,278.8L27.7,281.1L30.2,282.3L35.1,283.1L40.0,284.3L42.3,283.4L45.0,282.6L48.2,283.1L48.9,287.0L52.4,293.7L53.9,299.7L56.1,304.0L56.8,304.3L59.5,309.7L60.3,313.1L60.3,316.5L63.5,321.1L66.0,328.0L69.7,330.8L73.9,335.4L75.3,336.8L74.8,339.4L77.1,342.5L79.5,342.8L84.5,340.5L89.4,340.2L95.1,338.5L94.9,342.8L93.9,346.8L91.4,351.1L89.4,355.4L87.0,359.6L83.2,363.9L80.3,366.8L75.8,371.1L73.4,373.6L70.9,377.4L69.4,379.1L67.4,381.6L66.5,384.2L65.2,386.8L64.2,389.6L65.7,392.2L66.0,395.3L66.0,398.2L67.7,401.9L68.7,403.1L68.4,409.6L69.2,413.9L68.9,415.3L66.9,418.8L62.3,421.9L59.8,423.9L57.3,426.5L54.6,429.0L54.8,432.5L56.1,435.3L56.1,440.5L54.4,443.0L49.9,444.7L48.9,446.7L49.7,449.6L48.9,453.9L47.7,454.7L45.0,457.9L42.5,461.6L37.3,466.7L31.6,469.6L26.4,469.9L22.7,470.2L17.8,471.9L14.1,470.7L13.9,469.3L12.6,466.7L13.6,463.0L11.1,459.3L10.2,456.2L9.2,454.2L6.0,448.5L4.2,441.0L4.2,438.2L1.8,432.5L-0.7,426.8L-2.4,421.9L-2.4,418.2L-1.5,415.9L-0.7,411.0L1.5,408.5L2.5,403.9L1.0,397.6L0.0,392.5L-1.2,389.9L-1.5,388.5L-2.2,386.2L-4.4,383.6L-7.9,379.4L-8.9,376.8L-9.9,374.5L-8.4,371.4L-7.9,369.6L-7.4,367.1L-7.4,363.9L-7.6,361.1L-9.6,359.6L-11.1,359.4L-14.3,359.9L-16.8,360.2L-18.2,357.9L-19.2,355.9L-20.7,354.5L-23.2,354.2L-25.7,354.5L-28.6,355.1L-32.1,356.8L-36.8,359.1L-39.0,357.9L-41.5,357.4L-46.4,358.8L-50.1,359.9L-53.8,358.2L-58.3,354.5L-60.0,352.8L-62.5,351.1L-64.2,348.2L-65.4,345.4L-68.1,341.9L-70.1,338.5L-72.8,337.1L-72.6,333.9L-74.8,330.5L-72.3,326.8L-71.3,321.1L-71.8,316.8L-73.6,313.1L-73.3,311.1L-71.1,304.8L-67.4,298.0L-64.7,294.8L-63.4,292.8L-60.0,291.1L-56.8,288.5L-55.3,285.7L-56.0,284.8L-55.8,282.6L-54.3,280.3L-50.4,276.6L-48.4,275.4L-47.1,272.6Z M842.8,270.3L846.3,272.0L850.0,271.7L852.5,272.3L855.9,270.6L859.9,268.3L864.8,267.4L869.8,267.4L874.7,266.8L881.6,266.0L884.6,266.8L883.6,268.6L884.1,273.4L882.1,275.7L884.6,277.4L887.0,278.6L890.0,278.6L895.0,280.0L896.2,282.8L901.9,285.4L905.6,285.7L906.8,284.3L906.8,280.8L910.5,278.6L913.2,278.8L916.7,281.1L919.2,282.3L924.1,283.1L929.0,284.3L931.3,283.4L934.0,282.6L937.2,283.1L937.9,287.0L941.4,293.7L942.9,299.7L945.1,304.0L945.8,304.3L948.5,309.7L949.3,313.1L949.3,316.5L952.5,321.1L955.0,328.0L958.7,330.8L962.9,335.4L964.3,336.8L963.8,339.4L966.1,342.5L968.5,342.8L973.5,340.5L978.4,340.2L984.1,338.5L983.9,342.8L982.9,346.8L980.4,351.1L978.4,355.4L976.0,359.6L972.2,363.9L969.3,366.8L964.8,371.1L962.4,373.6L959.9,377.4L958.4,379.1L956.4,381.6L955.5,384.2L954.2,386.8L953.2,389.6L954.7,392.2L955.0,395.3L955.0,398.2L956.7,401.9L957.7,403.1L957.4,409.6L958.2,413.9L957.9,415.3L955.9,418.8L951.3,421.9L948.8,423.9L946.3,426.5L943.6,429.0L943.8,432.5L945.1,435.3L945.1,440.5L943.4,443.0L938.9,444.7L937.9,446.7L938.7,449.6L937.9,453.9L936.7,454.7L934.0,457.9L931.5,461.6L926.3,466.7L920.6,469.6L915.4,469.9L911.7,470.2L906.8,471.9L903.1,470.7L902.9,469.3L901.6,466.7L902.6,463.0L900.1,459.3L899.2,456.2L898.2,454.2L895.0,448.5L893.2,441.0L893.2,438.2L890.8,432.5L888.3,426.8L886.6,421.9L886.6,418.2L887.5,415.9L888.3,411.0L890.5,408.5L891.5,403.9L890.0,397.6L889.0,392.5L887.8,389.9L887.5,388.5L886.8,386.2L884.6,383.6L881.1,379.4L880.1,376.8L879.1,374.5L880.6,371.4L881.1,369.6L881.6,367.1L881.6,363.9L881.4,361.1L879.4,359.6L877.9,359.4L874.7,359.9L872.2,360.2L870.8,357.9L869.8,355.9L868.3,354.5L865.8,354.2L863.3,354.5L860.4,355.1L856.9,356.8L852.2,359.1L850.0,357.9L847.5,357.4L842.6,358.8L838.9,359.9L835.2,358.2L830.7,354.5L829.0,352.8L826.5,351.1L824.8,348.2L823.6,345.4L820.9,341.9L818.9,338.5L816.2,337.1L816.4,333.9L814.2,330.5L816.7,326.8L817.7,321.1L817.2,316.8L815.4,313.1L815.7,311.1L817.9,304.8L821.6,298.0L824.3,294.8L825.6,292.8L829.0,291.1L832.2,288.5L833.7,285.7L833.0,284.8L833.2,282.6L834.7,280.3L838.6,276.6L840.6,275.4L841.9,272.6Z M90.2,406.8L92.6,416.2L93.1,418.2L91.4,419.6L90.4,423.9L88.9,429.6L87.0,436.8L85.0,443.3L83.2,444.5L79.8,445.6L77.1,443.9L76.1,439.6L75.3,435.3L77.1,431.0L78.1,426.8L77.1,423.9L78.1,418.8L80.3,418.2L82.8,417.3L85.0,415.3L87.0,412.5L87.0,410.8L88.9,408.5Z M100.0,336.5L103.0,336.5L101.8,337.4Z M815.7,291.4L817.7,290.8L816.9,292.5Z M822.4,290.5L823.3,290.5L824.1,289.1L823.1,292.0Z M75.1,405.1L75.8,405.1L75.8,406.5L75.1,406.5Z M104.7,432.2L106.2,432.2L106.2,433.6L104.7,433.6Z M109.9,429.6L111.2,429.6L111.2,431.0L109.9,431.0Z M138.1,512.4L142.5,512.4L142.0,514.4L138.8,514.1Z M442.3,185.2L447.5,183.2L453.2,182.3L457.9,183.2L459.8,182.3L456.1,181.2L452.9,180.6L445.5,177.5L447.0,175.8L454.9,173.5L457.6,171.8L462.3,170.9L470.9,168.6L477.1,170.0L482.1,170.3L490.7,171.8L499.3,172.6L502.8,172.3L509.2,173.8L514.2,173.8L519.1,175.5L524.0,174.0L529.0,174.3L533.9,172.6L541.3,170.9L545.0,173.8L548.7,172.6L549.5,172.0L553.7,174.0L561.1,174.3L568.5,175.8L573.4,178.9L580.8,179.2L585.8,178.6L588.7,181.5L590.7,181.7L592.0,178.9L593.2,177.5L598.1,176.9L603.1,178.9L608.0,179.2L612.9,178.9L615.4,176.9L617.9,176.9L620.4,180.3L621.6,176.9L620.4,174.0L619.1,171.2L620.4,168.9L622.8,166.9L624.1,166.9L627.8,168.9L630.2,171.2L630.2,173.5L633.9,174.9L635.2,177.2L640.1,176.0L641.3,179.8L642.6,180.3L645.0,178.3L646.3,174.0L647.5,173.2L654.9,173.2L656.2,174.9L656.2,176.9L653.7,179.8L656.7,181.2L652.5,183.2L648.7,183.2L644.6,182.6L645.0,184.9L642.6,186.0L641.3,188.3L637.6,189.7L633.4,191.5L630.2,193.2L627.8,195.5L625.3,198.0L623.6,201.2L624.8,204.6L627.8,204.9L629.0,208.6L628.7,209.7L632.7,209.2L637.6,210.0L640.1,211.4L642.6,212.6L646.3,214.0L654.2,214.9L654.4,218.3L654.2,221.2L656.2,223.2L658.6,225.4L661.1,225.4L662.8,222.6L662.3,218.9L661.1,216.3L664.8,212.0L668.3,211.2L667.3,208.3L663.6,204.9L665.3,201.2L664.8,198.3L664.8,194.6L671.0,194.6L675.9,194.3L679.6,196.3L680.9,197.7L684.6,198.3L685.8,198.9L685.3,201.2L685.8,204.0L688.5,206.3L692.0,205.7L694.4,204.6L695.7,201.7L698.1,200.0L699.4,202.6L701.8,205.2L704.3,208.3L705.1,211.2L708.0,214.0L711.7,215.4L714.2,216.6L715.4,218.3L719.1,220.6L719.9,222.6L719.6,224.0L716.7,225.7L713.0,226.3L709.2,228.9L704.8,229.2L699.4,228.9L693.4,229.2L691.2,231.7L689.2,232.0L685.8,234.9L682.1,238.6L684.6,237.1L688.3,234.0L690.7,232.9L698.1,232.0L698.9,233.1L698.1,234.9L694.4,235.4L696.9,236.0L696.9,238.3L698.1,240.3L699.9,240.9L700.6,241.7L702.6,242.0L705.5,242.3L706.8,240.6L708.0,238.3L709.2,240.6L709.5,241.4L706.8,243.1L700.6,245.1L698.1,246.9L695.4,248.6L694.2,247.4L694.9,245.1L698.1,243.1L697.4,242.3L694.4,243.4L692.0,244.3L689.0,246.0L687.5,245.7L685.0,247.4L684.1,248.0L682.8,249.7L683.1,250.6L682.1,251.7L683.1,252.9L684.6,252.6L684.8,253.4L683.1,254.0L681.1,254.0L679.6,254.6L679.9,255.4L675.9,256.6L674.7,256.6L674.7,257.1L673.7,260.0L672.5,261.4L671.0,260.0L672.0,261.7L672.0,263.1L671.2,264.3L669.7,266.6L669.0,264.0L668.8,260.6L668.3,262.6L668.8,265.4L669.7,267.1L671.0,272.0L668.5,273.7L665.0,275.4L662.6,276.3L660.1,279.1L657.4,281.1L656.4,286.0L657.4,289.1L658.6,291.1L659.9,296.3L659.6,298.8L658.9,300.5L657.1,300.8L655.4,298.0L654.4,296.0L653.2,293.4L652.9,290.3L652.5,289.4L650.0,286.5L647.5,287.7L646.5,287.7L645.8,286.5L642.1,286.0L640.1,286.0L637.6,285.7L636.4,286.5L636.6,288.3L637.4,289.7L635.4,288.8L633.9,289.4L632.0,288.8L630.2,288.0L627.0,287.4L625.8,287.7L623.3,288.8L621.6,290.3L619.6,291.4L617.4,293.1L616.9,295.4L617.4,298.5L616.2,302.5L615.9,305.4L615.9,308.8L617.1,312.5L618.4,315.4L620.1,317.7L621.6,319.1L624.3,320.5L627.8,320.0L628.7,319.4L630.7,319.1L633.4,317.1L633.9,316.0L634.2,313.1L635.9,311.7L640.1,310.8L642.6,310.8L643.1,312.0L641.6,314.8L641.3,316.8L640.4,319.7L639.6,322.5L639.4,325.4L637.9,326.8L638.6,327.7L640.4,327.1L643.1,327.4L645.0,326.8L647.5,327.1L652.0,329.7L651.5,332.5L651.2,335.4L650.5,338.2L650.7,341.4L652.5,343.9L654.4,346.2L656.2,347.4L657.9,347.1L660.1,345.7L662.3,345.1L664.8,345.9L666.3,347.7L667.3,349.7L665.0,351.9L663.8,349.7L664.3,348.8L663.6,347.9L661.1,346.8L660.4,347.9L658.9,348.8L658.9,349.7L659.9,351.1L657.6,351.9L656.9,350.2L655.7,349.4L654.4,349.1L652.7,349.7L650.7,348.2L648.5,345.1L647.3,345.1L645.5,343.1L645.8,341.1L645.3,340.5L643.6,338.2L642.1,336.8L641.1,335.4L638.9,334.8L635.7,333.7L633.2,332.8L629.7,331.1L626.5,327.7L625.0,326.5L622.3,326.2L619.1,327.7L615.9,326.8L610.7,324.5L608.0,323.1L605.0,321.4L601.8,320.2L599.9,318.2L598.1,317.1L596.4,314.2L597.4,313.4L597.1,311.1L594.7,306.3L592.0,303.1L590.0,300.8L588.2,299.4L587.0,296.3L583.6,292.8L580.8,290.3L579.6,288.0L579.1,287.1L577.9,284.0L577.1,283.1L574.2,282.0L573.9,284.0L574.4,286.8L576.9,289.7L578.9,292.5L580.1,294.5L580.8,295.7L582.6,298.3L584.0,301.7L585.0,303.4L587.0,305.1L586.0,307.1L585.3,305.7L583.3,304.0L580.8,302.5L580.3,299.7L576.9,296.3L573.2,293.1L575.4,292.5L575.7,291.1L574.7,289.7L571.7,287.4L571.0,285.4L569.5,281.4L568.2,279.7L567.8,278.3L565.5,276.3L564.8,275.4L559.8,274.0L559.4,272.0L556.4,268.8L556.4,268.0L556.1,266.8L554.9,264.6L553.7,264.0L551.9,261.4L550.2,257.1L550.7,256.0L550.7,253.1L549.7,250.3L550.5,248.6L551.0,245.1L551.2,240.6L551.0,238.3L549.5,234.3L553.7,234.9L555.2,236.6L554.9,234.0L553.4,231.7L551.2,230.6L548.7,229.2L545.0,227.7L542.6,226.9L541.8,224.0L541.1,223.4L538.9,220.3L535.6,217.4L535.2,215.4L532.4,214.6L528.5,215.4L526.5,212.6L522.8,209.7L520.3,206.9L517.9,204.9L512.4,202.6L508.0,201.2L503.1,201.2L501.8,201.2L497.6,199.7L495.9,198.0L491.9,198.9L488.5,200.9L485.8,202.9L482.3,203.5L483.3,202.3L483.8,199.5L487.0,197.7L484.5,198.3L480.8,200.3L479.6,202.3L477.1,203.5L478.4,204.6L475.9,206.9L472.2,208.9L468.5,210.6L466.3,211.7L462.3,213.4L458.6,214.6L455.6,214.9L453.9,215.7L450.5,216.9L450.5,215.7L454.9,214.6L457.4,212.9L461.1,212.6L464.8,210.3L467.2,208.3L468.7,206.3L469.7,204.6L466.0,204.6L465.0,205.7L461.3,204.0L456.9,205.2L457.9,203.5L457.4,201.7L456.1,200.6L453.7,201.7L450.9,200.0L450.0,199.5L448.7,197.7L447.2,196.0L448.7,193.7L450.5,192.6L453.7,192.0L457.1,191.2L460.3,190.0L459.8,188.6L459.8,187.5L456.1,188.3L453.7,188.3L449.0,188.3L446.3,187.7L446.3,186.3Z M666.3,347.7L667.8,349.7L667.5,347.9L671.0,342.8L672.7,340.8L674.2,340.2L677.4,339.4L680.4,337.1L681.3,338.8L679.9,340.5L680.6,342.5L681.6,343.9L682.1,341.1L683.8,339.7L684.6,337.7L685.3,339.7L688.3,340.5L689.5,342.5L692.2,342.2L694.2,342.2L696.9,343.7L698.9,342.5L703.1,341.9L704.6,341.9L703.1,343.4L706.8,345.4L707.3,347.9L709.2,348.2L711.7,349.7L713.7,353.1L716.2,355.4L721.1,355.7L724.1,355.9L728.3,358.5L730.2,359.9L731.5,363.9L733.9,367.4L733.9,369.6L733.2,371.9L736.4,373.1L738.1,373.4L741.4,374.5L743.8,375.6L746.3,376.8L747.5,378.8L748.0,379.6L750.0,379.4L753.7,380.5L757.4,380.5L759.9,381.4L762.3,383.1L765.3,385.9L767.3,387.1L769.8,387.3L770.5,389.1L771.5,392.8L771.2,395.6L769.3,400.2L766.0,403.6L764.8,405.3L762.3,409.6L761.1,412.5L761.1,414.8L761.1,419.6L760.6,423.0L759.4,425.3L759.1,428.5L757.9,430.5L756.2,434.5L756.2,435.3L753.7,438.2L750.7,438.2L747.5,438.7L743.1,441.0L740.1,443.3L737.9,445.3L737.4,448.2L737.6,451.3L737.2,453.9L735.2,455.3L733.5,458.7L731.5,461.9L728.8,464.2L725.5,468.7L724.1,471.0L721.8,472.4L718.6,472.2L714.7,471.0L713.2,469.6L713.2,471.3L716.2,473.3L715.9,475.3L717.4,476.2L715.4,481.0L712.5,482.7L709.2,483.6L703.8,483.3L703.8,485.3L704.1,488.1L702.6,489.6L696.9,489.0L696.9,491.0L697.4,493.0L699.4,493.0L700.4,494.4L698.6,495.0L696.9,494.7L696.4,496.7L696.2,499.6L695.2,501.0L692.0,502.4L690.7,503.6L690.5,505.3L693.2,506.7L694.7,509.0L690.7,512.4L690.2,513.3L688.5,515.6L687.0,519.8L688.5,521.8L688.8,524.7L690.7,526.7L693.2,528.1L696.4,528.7L693.2,529.6L689.5,530.1L691.2,532.1L687.0,531.0L683.3,530.1L679.6,528.1L676.4,526.1L674.7,523.8L673.2,523.3L672.2,521.0L671.5,517.6L671.0,513.9L671.0,511.0L670.7,508.1L670.7,505.9L673.4,503.9L674.2,501.0L674.7,498.1L674.2,495.9L674.7,492.1L675.2,489.6L675.4,486.7L676.2,486.2L675.9,482.4L675.7,479.6L676.7,477.6L677.9,474.7L679.1,472.4L680.1,469.6L680.6,466.7L680.9,463.9L680.6,461.0L680.9,458.2L680.9,453.9L682.6,449.6L683.1,446.7L683.3,443.9L683.6,439.9L683.3,438.5L684.1,435.3L684.1,430.2L683.8,425.3L681.3,422.8L679.6,421.0L675.9,419.0L671.7,416.5L669.0,412.2L668.5,409.6L667.0,406.8L665.5,403.9L663.3,398.5L662.3,395.6L660.4,392.5L657.9,389.6L657.1,389.1L657.1,387.1L656.7,385.9L658.6,382.5L659.9,381.1L660.1,378.8L657.4,378.8L657.9,375.4L658.6,373.6L659.9,372.2L660.6,369.6L662.3,367.9L662.8,367.4L664.3,365.1L666.0,365.1L667.0,361.4L666.0,360.2L666.0,356.8L666.3,353.4L665.0,351.9L667.3,349.7Z M749.0,201.7L745.1,200.6L742.6,198.9L737.6,197.5L735.2,194.9L732.7,192.6L729.7,189.2L728.5,186.0L726.5,185.5L724.8,181.5L724.6,178.9L726.8,176.3L731.5,176.3L731.2,174.9L732.0,173.2L729.0,174.0L725.3,174.6L722.1,173.2L722.8,170.6L729.0,170.3L721.6,168.3L718.6,164.6L717.9,161.2L714.2,157.5L709.2,155.8L701.8,155.2L693.2,155.8L687.0,154.9L687.5,154.1L682.1,152.6L678.4,149.8L677.9,148.9L682.1,147.8L689.5,146.6L696.9,144.6L696.9,142.6L692.0,142.6L698.1,140.6L704.3,140.6L706.8,138.9L714.2,137.8L724.1,137.5L733.9,136.9L743.8,136.1L753.7,134.9L763.6,134.1L774.9,133.8L788.3,134.3L795.7,135.5L798.1,136.3L803.1,137.8L808.0,138.3L815.4,139.2L826.5,139.8L829.0,140.1L822.8,141.2L817.9,142.6L814.2,144.1L810.5,146.1L809.3,148.3L810.5,149.8L811.7,152.6L811.2,153.2L808.0,155.5L808.8,157.8L810.5,159.8L806.8,161.2L804.3,163.2L801.9,165.2L803.1,166.9L803.1,168.9L803.1,171.2L802.6,172.3L799.4,173.8L794.4,175.5L790.7,176.9L783.3,178.0L777.2,178.9L775.9,179.8L772.2,182.0L768.5,184.3L764.6,185.2L761.1,185.5L758.6,186.9L757.4,189.2L756.2,191.7L753.7,194.0L752.5,196.9L751.2,199.7Z M719.4,225.2L720.1,226.0L717.9,229.7L719.1,230.3L721.6,231.2L724.1,230.9L725.3,231.7L726.3,233.4L725.3,236.0L727.0,236.0L727.3,236.6L726.3,239.1L725.1,239.1L724.1,236.9L722.8,238.6L720.4,238.6L720.4,236.9L719.1,236.6L715.4,236.6L711.2,236.6L710.7,235.7L713.0,234.0L711.2,234.0L713.4,232.3L714.2,230.9L715.4,228.6L716.7,226.9Z M698.1,230.0L703.1,230.9L705.1,232.3L700.6,231.7Z M698.4,238.6L701.8,240.0L704.3,239.7L703.1,241.1L699.4,240.0Z M647.3,309.5L649.6,305.6L651.7,304.7L653.7,303.9L656.0,304.3L659.8,304.7L662.3,306.9L664.9,307.7L667.4,309.9L670.0,312.4L672.5,314.6L673.8,315.9L674.8,316.7L674.3,317.6L672.3,318.0L670.5,317.6L665.6,318.4L667.2,316.3L666.9,314.6L664.9,314.6L663.6,311.2L659.8,310.3L658.5,309.0L656.0,308.2L653.9,306.0L651.7,308.2L649.6,309.9Z M673.4,320.7L675.2,321.0L678.3,321.0L680.4,321.8L681.1,323.3L681.9,321.0L685.0,319.9L688.1,321.0L689.2,319.6L686.9,317.0L684.8,315.5L683.0,315.1L680.4,314.7L679.1,315.1L676.0,315.1L677.8,316.6L678.6,319.6L675.7,319.6L674.1,319.6L673.4,319.6Z M663.6,319.5L667.4,319.0L669.5,321.3L667.6,321.8L666.8,322.7L663.6,320.4Z M691.3,319.2L695.6,319.7L694.8,321.5L691.3,321.5Z M704.6,341.9L707.0,341.7L706.8,343.7L704.6,343.7Z M664.1,300.5L665.3,300.5L665.5,303.4L664.3,303.1Z M665.8,295.7L667.3,296.5L667.0,298.3L666.3,297.1Z M662.6,296.3L665.0,296.0L664.8,296.8L662.6,296.8Z M540.3,227.4L548.0,229.4L552.7,234.3L549.2,233.7L546.3,231.7L541.8,229.4Z M529.0,217.7L532.2,218.3L533.9,223.7L530.7,221.2Z M475.9,208.3L479.6,209.7L481.6,208.3L480.8,206.3L477.6,206.9Z M444.0,200.6L447.5,200.0L448.2,201.2L446.3,201.7Z M433.2,191.2L437.6,190.6L440.6,191.7L437.6,192.6L433.9,191.7Z M447.5,217.7L450.5,216.6L452.4,216.9L450.0,218.3Z M442.6,220.3L446.7,218.6L446.3,218.0L442.1,219.4Z M439.6,221.7L442.6,220.3L441.8,219.7L439.3,220.9Z M425.3,224.0L429.0,223.4L429.0,222.9L425.3,223.2Z M419.8,224.9L422.3,224.6L422.3,224.0L419.8,224.0Z M416.6,225.2L418.8,224.9L418.8,224.3L416.6,224.3Z M394.4,221.7L396.9,221.7L396.9,221.2L394.4,221.2Z M472.2,316.2L472.7,314.5L474.7,316.0L475.1,316.8L473.2,318.5L472.4,318.0Z M470.5,312.8L472.2,312.8L472.2,313.7L470.9,313.7Z M466.5,310.8L468.0,310.8L468.0,311.7L466.8,311.7Z M462.8,309.1L464.0,309.1L464.0,310.0L462.8,310.0Z M631.2,373.4L632.7,372.2L633.2,375.1L631.7,375.4Z M710.7,518.6L715.4,519.3L713.4,521.9L710.1,521.6Z M705.9,518.6L710.7,519.0L709.5,522.0L706.5,521.2Z M763.3,526.7L768.5,527.6L768.5,529.0L764.8,527.8Z M706.0,182.3L704.3,184.0L700.6,186.9L696.9,185.5L690.7,182.6L693.2,186.9L696.9,188.3L698.1,191.2L697.9,192.6L693.2,193.2L688.3,190.6L693.2,195.5L694.4,195.7L689.5,194.9L684.6,193.5L679.6,190.6L677.1,188.9L668.5,189.2L664.8,188.3L664.3,187.5L666.0,185.7L673.4,185.5L675.9,185.5L674.7,182.6L678.4,179.8L675.9,177.5L672.2,176.0L668.5,174.9L664.8,172.6L662.3,171.2L658.6,172.6L654.9,172.6L648.7,172.6L646.3,172.0L642.6,171.5L638.9,170.3L636.4,169.2L635.7,166.9L636.4,163.5L640.1,162.0L646.3,161.8L647.5,164.0L646.3,168.3L650.0,165.5L648.7,162.6L654.9,162.0L657.4,162.0L659.9,165.5L664.8,164.9L669.7,164.6L672.2,166.3L677.1,168.0L680.9,169.2L688.0,171.2L690.7,174.0L692.0,176.0L698.1,178.3L701.8,180.3Z M703.6,136.9L699.4,139.2L689.5,140.3L693.2,141.5L687.0,143.2L682.1,144.9L673.4,145.5L672.2,146.3L673.4,147.8L669.7,149.2L664.8,151.8L663.6,154.1L661.1,154.9L657.4,154.6L651.2,154.1L645.0,154.3L638.9,153.8L636.4,154.1L635.9,152.1L640.1,150.3L642.6,148.9L645.0,146.9L645.0,144.1L642.6,142.3L646.3,141.2L635.2,140.3L631.5,139.2L640.1,137.8L647.5,136.9L654.9,136.1L664.8,135.5L684.6,135.2L694.4,136.1Z M641.3,149.2L630.2,147.8L625.3,145.5L620.4,143.5L627.8,141.8L630.2,140.6L635.2,142.6L640.1,144.6L641.3,145.5L643.1,147.5Z M660.8,156.2L661.5,159.5L656.9,160.6L645.2,160.6L637.4,160.3L630.9,159.9L629.1,156.9L629.6,153.9L621.9,152.1L632.2,152.5L636.1,155.8L640.0,156.5L650.4,155.8L655.6,155.8Z M636.2,160.7L622.0,160.0L620.5,162.9L619.9,164.8L622.0,167.4L626.5,167.8L630.9,164.8L636.2,164.0Z M619.5,163.0L616.5,160.4L608.5,160.4L604.1,163.3L602.6,165.2L608.5,167.8L611.5,169.6L615.9,170.0L620.4,167.4L619.5,164.5Z M622.4,173.5L621.0,177.6L610.6,175.4L615.0,172.0Z M607.5,174.3L605.5,176.9L598.1,176.6L589.5,177.8L577.1,177.8L574.7,178.3L569.7,176.6L567.3,174.6L566.0,172.0L568.5,171.2L579.6,171.5L578.4,170.3L567.3,169.8L566.0,168.6L564.8,167.8L567.5,165.8L571.5,164.0L574.9,163.2L583.3,164.0L590.7,163.2L595.7,162.0L598.1,164.0L590.7,166.9L592.0,167.8L598.1,165.5L599.4,168.9L600.6,171.2L605.5,171.8L608.0,173.5Z M545.8,167.1L553.3,170.0L558.6,169.0L561.3,168.4L563.4,166.2L567.7,164.0L572.2,162.1L569.3,160.2L558.6,159.3L549.3,159.9L550.6,162.4L548.0,164.6Z M599.7,158.1L598.3,155.1L589.4,152.5L580.5,153.2L571.6,153.6L565.7,155.1L565.7,157.7L574.6,159.2L580.5,160.7L587.9,159.6L595.3,159.2Z M572.3,153.4L569.4,155.3L563.4,157.1L553.1,155.6L554.6,153.0L563.4,151.2L572.3,150.4Z M617.8,158.2L616.4,153.4L607.5,153.0L601.5,154.5L604.5,157.1L610.4,158.9L616.4,158.9Z M627.0,159.3L619.6,157.1L625.5,156.3Z M612.0,150.9L606.1,147.2L597.2,145.3L595.7,148.3L603.1,150.9Z M621.0,150.6L618.0,146.9L613.6,149.2L616.5,150.6Z M586.8,151.4L580.8,148.5L574.9,149.6L580.8,152.2Z M586.6,149.0L580.7,147.1L576.2,148.6L583.6,149.7Z M659.4,190.3L653.7,190.6L651.2,189.5L646.3,192.3L642.1,190.9L645.0,188.0L644.6,185.5L647.5,184.0L651.2,184.6L654.9,187.5L657.4,189.2Z M652.5,192.9L654.9,192.9L656.7,194.0L653.7,194.9Z M659.1,194.6L661.1,194.6L661.1,196.6L659.4,196.3Z M658.6,162.6L664.8,162.3L668.5,163.5L664.8,164.3L659.9,164.3Z M666.0,177.8L672.2,178.3L671.0,180.3L667.3,180.0Z M654.9,220.6L658.6,220.9L658.6,221.7L655.4,221.7Z M659.9,210.6L662.3,210.6L662.3,213.2L659.9,213.2Z M266.2,319.7L269.9,319.7L270.4,323.1L270.2,326.0L268.7,327.4L268.7,330.0L269.7,332.0L271.4,331.7L272.9,332.5L274.6,332.8L274.9,335.4L274.9,336.5L273.4,335.7L271.7,333.7L271.2,334.8L269.7,332.8L267.2,333.4L266.2,332.8L266.2,331.4L267.2,330.8L266.0,330.5L265.2,330.2L264.3,326.8L264.3,325.7L265.5,326.5L265.5,324.0L265.7,322.2Z M278.1,344.5L280.3,346.8L280.6,349.1L281.0,351.7L280.1,354.5L278.6,352.5L278.1,353.9L278.8,356.5L277.8,356.5L277.3,355.1L275.1,354.8L275.1,351.9L273.4,351.1L273.1,350.2L271.7,351.1L269.7,352.8L269.9,350.5L270.9,349.4L272.9,347.9L273.9,347.9L275.1,349.1L276.1,348.2L277.1,346.8L278.3,346.8Z M275.4,336.8L277.8,336.8L278.8,341.1L276.9,340.2Z M275.6,339.9L277.1,340.5L277.6,343.4L276.6,343.9Z M270.7,343.9L272.2,341.1L273.4,341.4L272.7,346.5L271.2,345.7Z M269.7,338.5L272.2,339.7L270.9,341.9L269.7,342.8Z M273.1,345.4L274.6,340.5L274.9,341.4L273.6,345.4Z M274.1,344.2L275.9,343.7L275.9,344.8L274.4,345.1Z M265.5,333.9L268.5,334.2L267.7,337.7L266.5,336.2Z M257.8,348.5L259.8,346.8L263.0,342.5L263.5,340.2L262.8,342.2L259.8,345.7Z M272.7,336.8L274.6,338.2L273.6,338.5Z M239.1,366.5L240.8,367.6L242.5,368.2L243.3,365.6L247.5,363.4L249.9,359.9L252.4,358.2L253.4,356.8L254.9,355.4L256.8,352.5L258.1,353.4L259.1,355.4L260.1,355.7L262.8,357.4L261.3,359.6L259.6,360.5L258.8,362.8L259.8,366.2L259.3,367.4L262.3,369.6L259.8,369.9L258.6,371.4L258.6,374.2L256.8,376.2L256.1,378.8L255.6,381.1L254.9,382.8L251.7,384.2L251.2,382.5L247.5,381.6L245.0,382.2L244.3,381.1L242.0,381.1L240.5,378.2L240.1,376.8L238.3,374.8L237.8,373.4L238.1,372.5L237.6,370.2L237.3,369.6L238.3,367.6Z M203.8,356.5L208.0,357.7L210.4,359.6L212.2,361.6L214.9,363.9L216.3,365.9L218.8,367.6L220.8,368.8L222.8,370.2L224.7,372.5L224.0,374.8L226.2,375.4L226.7,378.2L229.7,379.9L230.2,381.6L229.9,383.9L229.7,389.1L228.4,388.2L226.7,388.2L226.0,388.5L224.0,386.5L221.0,383.4L218.8,380.5L216.3,375.4L214.9,372.5L213.1,369.9L212.4,367.6L209.9,365.9L208.0,363.4L205.7,360.8L204.0,358.2Z M228.2,377.6L230.7,377.1L231.9,381.1L229.9,380.2Z M234.1,379.9L235.9,380.2L235.6,381.6L234.1,381.4Z M208.2,368.5L209.2,368.5L210.2,370.8L209.4,370.8Z M211.9,375.4L212.9,375.4L213.6,377.4L212.6,377.4Z M228.2,391.9L230.2,389.3L232.2,389.9L235.1,390.5L236.6,391.6L241.0,392.2L242.5,390.8L245.0,392.2L246.7,393.1L248.7,394.5L250.9,394.8L251.2,397.3L247.5,396.2L243.8,396.2L240.1,395.1L237.6,394.5L233.9,394.5L231.2,393.6Z M246.7,392.5L249.9,392.2L249.9,393.1L247.0,393.1Z M251.2,395.9L252.9,395.6L254.1,396.5L252.9,397.6Z M254.6,396.5L256.4,396.2L256.4,397.9L254.6,397.6Z M256.8,396.8L259.3,395.9L262.5,396.2L262.3,397.6L259.3,398.2L256.8,398.2Z M264.5,396.5L267.2,396.5L271.9,395.9L271.7,397.3L267.2,397.9L264.5,397.6Z M262.3,399.6L264.8,399.3L266.7,401.3L264.8,401.6Z M273.4,401.9L275.9,398.8L278.3,397.1L282.5,396.5L280.8,398.5L277.1,400.5L274.6,401.9Z M272.2,396.2L277.1,395.9L277.1,396.5L272.2,396.8Z M279.1,394.2L281.5,394.2L281.5,395.1L279.1,395.1Z M291.9,394.8L293.6,393.1L293.6,395.3Z M299.6,388.2L301.3,388.5L301.1,391.9L299.8,391.3Z M276.6,368.2L277.6,368.2L275.9,371.4L273.4,371.6L269.7,371.1L267.2,371.4L265.2,371.1L264.8,374.8L267.2,376.5L268.7,375.1L271.7,375.1L273.1,375.1L271.7,377.1L269.7,377.6L268.5,378.2L269.2,380.5L270.4,382.2L271.2,383.9L271.9,385.4L270.4,386.2L268.7,386.2L268.5,383.9L267.2,381.1L265.7,380.2L265.2,381.1L265.7,383.9L265.7,388.2L263.3,388.2L263.5,383.9L262.3,382.2L262.0,380.2L263.0,378.2L264.0,375.4L264.3,372.5L264.8,370.5L266.7,368.8L268.5,369.4L270.9,369.6L273.4,369.9L275.4,369.1Z M271.2,385.4L272.7,385.4L272.4,388.5L271.2,388.5Z M283.3,366.8L284.5,366.2L286.0,368.2L284.5,369.6L286.2,371.1L285.2,371.6L284.3,370.2L284.5,374.8L283.5,373.4L283.3,369.6Z M284.5,381.1L288.2,380.5L291.4,381.6L290.7,383.1L287.0,382.2L284.5,382.5Z M279.6,381.6L282.5,381.6L282.5,383.4L280.1,383.4Z M275.6,377.4L279.6,377.6L279.6,378.2L275.6,378.2Z M292.4,374.8L295.6,373.6L299.3,374.8L299.8,376.8L299.8,379.6L301.8,381.9L303.0,381.9L305.5,378.8L308.0,377.4L310.9,377.6L315.9,379.6L317.3,380.2L323.0,382.5L325.3,383.4L328.5,387.3L330.9,389.1L333.4,390.2L333.4,391.6L331.4,391.6L332.7,394.5L334.4,396.8L337.1,398.2L338.8,400.2L341.1,401.6L340.6,402.8L337.6,401.9L333.9,401.3L331.9,399.6L330.2,397.6L328.5,395.1L325.3,394.2L322.8,395.9L322.8,396.5L321.5,398.2L322.0,398.8L319.1,398.8L316.6,398.5L314.9,396.8L311.7,395.6L310.4,396.2L308.2,396.5L308.7,393.6L310.7,393.1L311.2,391.1L309.2,388.2L306.7,386.5L304.3,385.6L301.8,384.8L298.6,383.1L296.9,383.9L296.4,383.9L295.1,380.8L294.1,380.5L298.1,379.6L298.8,378.8L295.6,378.8L293.1,376.8L291.7,376.2Z M334.6,389.1L334.9,388.2L338.8,388.2L339.1,386.8L341.3,387.3L342.5,386.5L343.8,384.5L344.8,384.8L343.8,388.2L341.3,389.6L338.8,390.5L336.4,390.2Z M340.8,379.9L343.8,381.6L345.7,383.6L346.5,385.6L345.7,385.9L344.5,383.6L342.5,381.6L340.8,380.5Z M330.4,377.9L332.4,377.9L332.4,378.8L330.4,378.8Z M350.2,387.9L351.9,388.5L353.4,391.9L351.7,391.3L350.4,389.3Z M354.6,391.3L357.4,393.3L356.9,393.9L354.6,392.2Z M359.6,393.9L363.0,396.2L362.5,396.8L359.6,394.8Z M362.5,399.1L365.5,399.3L365.5,400.8L362.8,400.5Z M365.0,396.5L367.0,399.3L366.2,399.9L365.0,397.6Z M356.1,395.3L358.3,396.2L358.3,397.1L356.1,396.5Z M366.7,401.9L369.2,402.8L369.0,403.3L366.7,402.8Z M379.8,414.5L381.3,415.3L381.3,417.0L380.1,416.8Z M381.3,418.2L382.8,419.0L382.3,419.9L381.3,419.3Z M383.5,422.8L384.8,422.8L384.5,423.6L383.5,423.3Z M373.4,429.9L377.1,432.2L380.8,435.9L379.6,436.5L375.9,433.6L373.4,430.8Z M406.2,422.2L409.5,422.5L409.5,424.5L406.5,424.5Z M409.5,420.2L412.9,418.8L412.9,420.2L410.0,421.0Z M320.3,403.1L321.1,405.3L322.8,411.0L323.5,413.9L325.3,413.0L327.2,416.8L328.5,420.8L329.4,425.3L330.9,427.6L334.4,429.6L336.9,432.8L338.3,436.2L340.8,439.3L342.0,440.5L344.8,443.3L347.0,443.3L346.7,446.2L346.5,450.7L347.5,453.0L347.7,454.2L346.5,459.0L346.0,462.2L343.3,466.4L342.0,469.3L341.1,470.7L340.8,472.7L339.3,476.2L338.8,479.6L335.1,480.4L333.9,480.7L329.9,484.2L327.7,482.7L326.2,480.7L325.7,481.9L322.8,483.6L320.3,482.2L318.1,482.2L315.6,481.0L313.4,478.2L313.6,477.6L311.4,474.2L309.4,474.2L310.4,472.2L309.4,470.4L308.5,473.0L306.5,473.3L308.0,469.6L308.7,465.6L308.0,466.7L305.5,469.6L304.0,471.6L302.8,471.9L302.0,471.0L301.1,467.3L299.8,466.2L298.6,464.2L294.4,463.9L292.2,462.5L287.0,463.0L282.0,464.7L278.3,465.6L275.9,466.7L273.4,469.3L269.4,469.3L264.8,469.3L262.3,471.0L259.6,472.4L256.1,472.4L252.6,470.7L252.4,468.2L253.9,467.6L254.1,463.9L253.1,461.0L252.4,459.0L251.4,454.7L250.4,451.6L248.0,447.0L248.7,445.3L250.4,447.6L249.2,443.6L248.5,441.0L249.4,438.2L250.4,434.8L250.9,436.8L251.7,434.8L252.6,434.2L256.6,431.3L261.3,430.5L264.8,429.3L268.5,426.8L269.2,425.3L270.2,423.9L271.9,419.3L273.6,421.9L273.6,419.6L275.9,418.2L275.9,416.2L277.6,414.2L279.6,412.5L281.8,411.6L284.0,413.3L285.0,415.3L284.8,416.8L287.0,415.0L288.5,415.0L288.2,412.2L289.4,410.5L291.4,407.9L293.1,407.3L295.1,407.3L295.9,405.3L294.4,404.2L296.9,404.8L298.1,406.2L299.8,406.8L301.8,407.3L304.3,406.8L306.5,407.3L305.5,410.2L304.3,411.0L304.0,413.9L302.8,414.8L305.5,417.6L306.7,417.9L309.2,419.9L311.7,421.0L313.2,422.8L316.1,422.5L317.6,418.2L317.8,415.3L318.1,412.5L318.1,409.6L318.6,408.5L318.8,405.3Z M325.7,488.7L329.9,490.1L333.9,489.0L334.6,489.6L334.6,492.4L333.9,495.3L332.2,495.9L330.9,497.0L329.0,496.7L327.2,494.1L327.0,493.0L325.7,490.4Z M305.7,474.7L308.0,474.2L309.4,475.0L307.7,475.6Z M289.9,405.3L293.1,405.1L292.7,406.2L290.4,406.2Z M305.2,411.9L306.5,411.9L306.5,413.3L305.2,413.3Z M394.9,470.7L395.6,470.7L398.6,473.0L399.3,474.7L400.1,477.6L401.8,476.7L402.8,478.2L403.5,480.2L406.0,481.0L409.2,480.2L408.0,483.0L407.7,484.4L405.3,485.3L405.8,485.6L404.3,488.4L403.5,489.3L401.3,491.3L400.1,490.4L400.6,488.7L400.6,486.4L398.8,485.6L397.6,484.7L398.3,484.2L399.6,481.9L400.1,481.3L400.1,480.4L399.3,478.2L398.6,476.4L396.6,473.9L395.9,473.0Z M394.9,488.1L396.4,490.4L398.8,489.6L398.8,491.6L397.4,493.6L396.1,495.3L395.9,497.6L394.9,497.0L393.7,498.1L391.4,499.3L390.7,501.3L390.0,503.6L387.7,505.0L384.0,505.6L382.0,504.4L379.8,504.4L379.6,503.3L380.8,501.0L382.8,499.9L384.8,498.1L385.8,497.9L388.2,495.9L390.7,494.4L391.2,493.6L392.2,491.6L393.4,489.3Z M382.0,506.1L383.8,506.1L383.5,507.3L382.0,507.3Z M41.0,570.0L50.0,568.4L56.0,570.0L65.0,570.4L70.0,566.0L80.0,564.4L90.0,563.6L98.0,560.0L106.0,560.4L116.0,564.4L126.0,564.4L139.0,565.6L142.2,572.0L152.0,570.0L164.0,566.0L176.0,563.6L190.0,562.4L212.0,562.4L218.0,560.0L228.0,560.0L240.0,562.0L248.0,559.0L264.0,562.4L278.0,561.0L300.0,560.0L320.0,563.0L338.0,567.0L358.0,569.0L368.0,571.6L382.0,573.6L390.0,577.0L382.0,582.0L370.0,587.0L373.0,593.0L377.0,596.0L366.0,597.7L363.0,601.7L370.0,606.0L390.0,609.0L410.0,611.0L430.0,613.7L440.0,613.7L454.0,615.7L488.0,615.7L488.0,613.0L478.0,611.0L475.0,604.0L494.0,602.5L486.0,599.0L468.0,596.5L466.0,592.5L486.0,593.0L494.0,589.0L506.0,589.0L520.0,585.7L532.0,586.0L542.0,588.0L552.0,581.7L560.0,583.0L572.0,586.0L580.0,583.0L586.0,586.0L600.0,584.0L608.0,580.0L620.0,581.0L630.0,579.7L650.0,580.0L663.0,579.6L674.0,580.3L680.0,580.6L683.0,579.6L676.0,579.0L670.0,575.6L668.0,573.6L675.0,571.6L674.0,573.0L680.0,574.6L684.0,573.6L680.0,569.6L684.0,568.6L688.0,573.6L690.0,577.0L691.0,575.0L690.0,569.0L691.6,565.0L685.0,565.0L688.0,562.5L694.0,563.0L695.0,560.0L699.0,558.0L698.0,556.5L702.0,555.0L704.0,556.5L708.0,554.0L715.0,552.5L716.0,555.0L710.0,555.5L707.0,556.5L704.0,560.0L699.0,564.0L697.0,566.0L701.0,568.0L705.0,572.0L707.0,577.0L707.0,583.0L703.0,587.0L697.0,590.6L694.0,592.0L708.0,592.0L720.0,593.0L730.0,595.6L750.0,598.0L762.0,597.5L776.0,592.5L790.0,589.0L798.0,585.0L810.0,581.7L826.0,579.0L832.0,575.0L840.0,576.0L850.0,573.0L858.0,575.7L870.0,572.5L890.0,572.0L910.0,572.5L932.0,571.0L932.0,630.0L41.0,630.0Z M378.0,592.5L387.0,592.5L387.0,594.0L378.0,594.0Z M451.0,597.0L462.0,597.0L462.0,601.0L451.0,601.0Z M487.0,589.7L493.0,589.7L493.0,591.7L487.0,591.7Z M603.0,577.0L620.0,577.0L620.0,579.5L603.0,579.5Z M706.0,549.5L715.0,549.5L715.0,551.0L706.0,551.0Z M717.0,552.0L721.6,552.0L721.6,553.5L717.0,553.5Z M741.0,544.5L746.0,544.5L746.0,546.0L741.0,546.0Z"/></g>
<g stroke="#adadad" stroke-width="1" shape-rendering="crispEdges"><line x1="116.5" y1="115.5" x2="116.5" y2="629.5"/><line x1="190.5" y1="115.5" x2="190.5" y2="629.5"/><line x1="264.5" y1="115.5" x2="264.5" y2="629.5"/><line x1="338.5" y1="115.5" x2="338.5" y2="629.5"/><line x1="412.5" y1="115.5" x2="412.5" y2="629.5"/><line x1="486.5" y1="115.5" x2="486.5" y2="629.5"/><line x1="560.5" y1="115.5" x2="560.5" y2="629.5"/><line x1="634.5" y1="115.5" x2="634.5" y2="629.5"/><line x1="708.5" y1="115.5" x2="708.5" y2="629.5"/><line x1="782.5" y1="115.5" x2="782.5" y2="629.5"/><line x1="856.5" y1="115.5" x2="856.5" y2="629.5"/><line x1="42.5" y1="201.5" x2="931.5" y2="201.5"/><line x1="42.5" y1="286.5" x2="931.5" y2="286.5"/><line x1="42.5" y1="458.5" x2="931.5" y2="458.5"/><line x1="42.5" y1="543.5" x2="931.5" y2="543.5"/></g>
<g stroke="#000" stroke-width="1" shape-rendering="crispEdges" fill="none">
<line x1="42.5" y1="372.5" x2="931.5" y2="372.5"/>
<rect x="42.5" y="115.5" width="889.0" height="514.0"/>
</g>
<g class="num"><text x="115.9" y="134.7" textLength="7.0" lengthAdjust="spacingAndGlyphs">8</text><text x="411.8" y="134.7" textLength="7.0" lengthAdjust="spacingAndGlyphs">1</text><text x="707.8" y="134.7" textLength="7.0" lengthAdjust="spacingAndGlyphs">2</text><text x="115.9" y="163.2" textLength="7.0" lengthAdjust="spacingAndGlyphs">8</text><text x="214.5" y="163.2" textLength="7.0" lengthAdjust="spacingAndGlyphs">9</text><text x="313.2" y="163.2" textLength="7.0" lengthAdjust="spacingAndGlyphs">2</text><text x="411.8" y="163.2" textLength="7.0" lengthAdjust="spacingAndGlyphs">1</text><text x="510.5" y="163.2" textLength="7.0" lengthAdjust="spacingAndGlyphs">1</text><text x="707.8" y="163.2" textLength="7.0" lengthAdjust="spacingAndGlyphs">9</text><text x="806.5" y="163.2" textLength="7.0" lengthAdjust="spacingAndGlyphs">8</text><text x="905.2" y="163.2" textLength="14.1" lengthAdjust="spacingAndGlyphs">14</text><text x="51.0" y="191.7" textLength="14.1" lengthAdjust="spacingAndGlyphs">13</text><text x="91.2" y="191.7" textLength="7.0" lengthAdjust="spacingAndGlyphs">9</text><text x="387.2" y="191.7" textLength="14.1" lengthAdjust="spacingAndGlyphs">11</text><text x="436.5" y="191.7" textLength="7.0" lengthAdjust="spacingAndGlyphs">9</text><text x="485.8" y="191.7" textLength="14.1" lengthAdjust="spacingAndGlyphs">11</text><text x="781.8" y="191.7" textLength="14.1" lengthAdjust="spacingAndGlyphs">15</text><text x="831.2" y="191.7" textLength="14.1" lengthAdjust="spacingAndGlyphs">16</text><text x="880.5" y="191.7" textLength="14.1" lengthAdjust="spacingAndGlyphs">16</text><text x="924.0" y="191.7" textLength="14.1" lengthAdjust="spacingAndGlyphs">13</text><text x="51.0" y="220.2" textLength="14.1" lengthAdjust="spacingAndGlyphs">11</text><text x="337.9" y="220.2" textLength="14.1" lengthAdjust="spacingAndGlyphs">11</text><text x="387.2" y="220.2" textLength="14.1" lengthAdjust="spacingAndGlyphs">13</text><text x="436.5" y="220.2" textLength="14.1" lengthAdjust="spacingAndGlyphs">12</text><text x="485.8" y="220.2" textLength="14.1" lengthAdjust="spacingAndGlyphs">14</text><text x="535.2" y="220.2" textLength="14.1" lengthAdjust="spacingAndGlyphs">18</text><text x="732.5" y="220.2" textLength="14.1" lengthAdjust="spacingAndGlyphs">17</text><text x="781.8" y="220.2" textLength="14.1" lengthAdjust="spacingAndGlyphs">15</text><text x="831.2" y="220.2" textLength="14.1" lengthAdjust="spacingAndGlyphs">16</text><text x="880.5" y="220.2" textLength="14.1" lengthAdjust="spacingAndGlyphs">15</text><text x="924.0" y="220.2" textLength="14.1" lengthAdjust="spacingAndGlyphs">11</text><text x="54.2" y="248.7" textLength="14.1" lengthAdjust="spacingAndGlyphs">12</text><text x="78.9" y="248.7" textLength="14.1" lengthAdjust="spacingAndGlyphs">11</text><text x="103.5" y="248.7" textLength="7.0" lengthAdjust="spacingAndGlyphs">8</text><text x="276.2" y="248.7" textLength="7.0" lengthAdjust="spacingAndGlyphs">6</text><text x="300.9" y="248.7" textLength="14.1" lengthAdjust="spacingAndGlyphs">11</text><text x="325.5" y="248.7" textLength="14.1" lengthAdjust="spacingAndGlyphs">12</text><text x="350.2" y="248.7" textLength="14.1" lengthAdjust="spacingAndGlyphs">11</text><text x="374.9" y="248.7" textLength="14.1" lengthAdjust="spacingAndGlyphs">10</text><text x="399.5" y="248.7" textLength="14.1" lengthAdjust="spacingAndGlyphs">12</text><text x="424.2" y="248.7" textLength="14.1" lengthAdjust="spacingAndGlyphs">13</text><text x="448.8" y="248.7" textLength="14.1" lengthAdjust="spacingAndGlyphs">13</text><text x="473.5" y="248.7" textLength="14.1" lengthAdjust="spacingAndGlyphs">14</text><text x="498.2" y="248.7" textLength="14.1" lengthAdjust="spacingAndGlyphs">17</text><text x="522.8" y="248.7" textLength="14.1" lengthAdjust="spacingAndGlyphs">20</text><text x="547.5" y="248.7" textLength="14.1" lengthAdjust="spacingAndGlyphs">22</text><text x="670.8" y="248.7" textLength="14.1" lengthAdjust="spacingAndGlyphs">10</text><text x="695.5" y="248.7" textLength="14.1" lengthAdjust="spacingAndGlyphs">12</text><text x="720.2" y="248.7" textLength="14.1" lengthAdjust="spacingAndGlyphs">13</text><text x="744.8" y="248.7" textLength="14.1" lengthAdjust="spacingAndGlyphs">17</text><text x="769.5" y="248.7" textLength="14.1" lengthAdjust="spacingAndGlyphs">22</text><text x="794.2" y="248.7" textLength="14.1" lengthAdjust="spacingAndGlyphs">21</text><text x="818.8" y="248.7" textLength="14.1" lengthAdjust="spacingAndGlyphs">23</text><text x="843.5" y="248.7" textLength="14.1" lengthAdjust="spacingAndGlyphs">24</text><text x="868.2" y="248.7" textLength="14.1" lengthAdjust="spacingAndGlyphs">22</text><text x="892.8" y="248.7" textLength="14.1" lengthAdjust="spacingAndGlyphs">20</text><text x="917.5" y="248.7" textLength="14.1" lengthAdjust="spacingAndGlyphs">12</text><text x="54.2" y="277.2" textLength="14.1" lengthAdjust="spacingAndGlyphs">29</text><text x="78.9" y="277.2" textLength="14.1" lengthAdjust="spacingAndGlyphs">28</text><text x="103.5" y="277.2" textLength="14.1" lengthAdjust="spacingAndGlyphs">14</text><text x="251.5" y="277.2" textLength="7.0" lengthAdjust="spacingAndGlyphs">9</text><text x="276.2" y="277.2" textLength="14.1" lengthAdjust="spacingAndGlyphs">11</text><text x="300.9" y="277.2" textLength="14.1" lengthAdjust="spacingAndGlyphs">22</text><text x="325.5" y="277.2" textLength="14.1" lengthAdjust="spacingAndGlyphs">23</text><text x="350.2" y="277.2" textLength="14.1" lengthAdjust="spacingAndGlyphs">21</text><text x="374.9" y="277.2" textLength="14.1" lengthAdjust="spacingAndGlyphs">20</text><text x="399.5" y="277.2" textLength="14.1" lengthAdjust="spacingAndGlyphs">20</text><text x="424.2" y="277.2" textLength="14.1" lengthAdjust="spacingAndGlyphs">20</text><text x="448.8" y="277.2" textLength="14.1" lengthAdjust="spacingAndGlyphs">20</text><text x="473.5" y="277.2" textLength="14.1" lengthAdjust="spacingAndGlyphs">20</text><text x="498.2" y="277.2" textLength="14.1" lengthAdjust="spacingAndGlyphs">22</text><text x="522.8" y="277.2" textLength="14.1" lengthAdjust="spacingAndGlyphs">24</text><text x="547.5" y="277.2" textLength="14.1" lengthAdjust="spacingAndGlyphs">25</text><text x="572.2" y="277.2" textLength="14.1" lengthAdjust="spacingAndGlyphs">22</text><text x="646.2" y="277.2" textLength="14.1" lengthAdjust="spacingAndGlyphs">27</text><text x="670.8" y="277.2" textLength="14.1" lengthAdjust="spacingAndGlyphs">28</text><text x="695.5" y="277.2" textLength="14.1" lengthAdjust="spacingAndGlyphs">32</text><text x="720.2" y="277.2" textLength="14.1" lengthAdjust="spacingAndGlyphs">34</text><text x="744.8" y="277.2" textLength="14.1" lengthAdjust="spacingAndGlyphs">38</text><text x="769.5" y="277.2" textLength="14.1" lengthAdjust="spacingAndGlyphs">36</text><text x="794.2" y="277.2" textLength="14.1" lengthAdjust="spacingAndGlyphs">33</text><text x="818.8" y="277.2" textLength="14.1" lengthAdjust="spacingAndGlyphs">34</text><text x="843.5" y="277.2" textLength="14.1" lengthAdjust="spacingAndGlyphs">26</text><text x="868.2" y="277.2" textLength="14.1" lengthAdjust="spacingAndGlyphs">24</text><text x="892.8" y="277.2" textLength="14.1" lengthAdjust="spacingAndGlyphs">24</text><text x="917.5" y="277.2" textLength="14.1" lengthAdjust="spacingAndGlyphs">26</text><text x="54.2" y="305.7" textLength="7.0" lengthAdjust="spacingAndGlyphs">8</text><text x="78.9" y="305.7" textLength="14.1" lengthAdjust="spacingAndGlyphs">13</text><text x="103.5" y="305.7" textLength="14.1" lengthAdjust="spacingAndGlyphs">11</text><text x="128.2" y="305.7" textLength="14.1" lengthAdjust="spacingAndGlyphs">23</text><text x="152.9" y="305.7" textLength="14.1" lengthAdjust="spacingAndGlyphs">27</text><text x="177.5" y="305.7" textLength="14.1" lengthAdjust="spacingAndGlyphs">38</text><text x="202.2" y="305.7" textLength="14.1" lengthAdjust="spacingAndGlyphs">48</text><text x="226.9" y="305.7" textLength="14.1" lengthAdjust="spacingAndGlyphs">16</text><text x="251.5" y="305.7" textLength="14.1" lengthAdjust="spacingAndGlyphs">24</text><text x="276.2" y="305.7" textLength="14.1" lengthAdjust="spacingAndGlyphs">30</text><text x="300.9" y="305.7" textLength="14.1" lengthAdjust="spacingAndGlyphs">37</text><text x="325.5" y="305.7" textLength="14.1" lengthAdjust="spacingAndGlyphs">46</text><text x="350.2" y="305.7" textLength="14.1" lengthAdjust="spacingAndGlyphs">40</text><text x="374.9" y="305.7" textLength="14.1" lengthAdjust="spacingAndGlyphs">40</text><text x="399.5" y="305.7" textLength="14.1" lengthAdjust="spacingAndGlyphs">42</text><text x="424.2" y="305.7" textLength="14.1" lengthAdjust="spacingAndGlyphs">43</text><text x="448.8" y="305.7" textLength="14.1" lengthAdjust="spacingAndGlyphs">47</text><text x="473.5" y="305.7" textLength="14.1" lengthAdjust="spacingAndGlyphs">47</text><text x="498.2" y="305.7" textLength="14.1" lengthAdjust="spacingAndGlyphs">37</text><text x="522.8" y="305.7" textLength="14.1" lengthAdjust="spacingAndGlyphs">28</text><text x="547.5" y="305.7" textLength="14.1" lengthAdjust="spacingAndGlyphs">28</text><text x="572.2" y="305.7" textLength="14.1" lengthAdjust="spacingAndGlyphs">26</text><text x="596.8" y="305.7" textLength="14.1" lengthAdjust="spacingAndGlyphs">26</text><text x="621.5" y="305.7" textLength="14.1" lengthAdjust="spacingAndGlyphs">27</text><text x="646.2" y="305.7" textLength="14.1" lengthAdjust="spacingAndGlyphs">45</text><text x="670.8" y="305.7" textLength="14.1" lengthAdjust="spacingAndGlyphs">48</text><text x="695.5" y="305.7" textLength="14.1" lengthAdjust="spacingAndGlyphs">54</text><text x="720.2" y="305.7" textLength="14.1" lengthAdjust="spacingAndGlyphs">55</text><text x="744.8" y="305.7" textLength="14.1" lengthAdjust="spacingAndGlyphs">52</text><text x="769.5" y="305.7" textLength="14.1" lengthAdjust="spacingAndGlyphs">50</text><text x="794.2" y="305.7" textLength="14.1" lengthAdjust="spacingAndGlyphs">48</text><text x="818.8" y="305.7" textLength="14.1" lengthAdjust="spacingAndGlyphs">33</text><text x="843.5" y="305.7" textLength="14.1" lengthAdjust="spacingAndGlyphs">30</text><text x="54.2" y="334.2" textLength="14.1" lengthAdjust="spacingAndGlyphs">13</text><text x="78.9" y="334.2" textLength="14.1" lengthAdjust="spacingAndGlyphs">31</text><text x="103.5" y="334.2" textLength="14.1" lengthAdjust="spacingAndGlyphs">54</text><text x="128.2" y="334.2" textLength="14.1" lengthAdjust="spacingAndGlyphs">48</text><text x="152.9" y="334.2" textLength="14.1" lengthAdjust="spacingAndGlyphs">52</text><text x="177.5" y="334.2" textLength="14.1" lengthAdjust="spacingAndGlyphs">60</text><text x="202.2" y="334.2" textLength="14.1" lengthAdjust="spacingAndGlyphs">58</text><text x="226.9" y="334.2" textLength="14.1" lengthAdjust="spacingAndGlyphs">36</text><text x="251.5" y="334.2" textLength="14.1" lengthAdjust="spacingAndGlyphs">63</text><text x="276.2" y="334.2" textLength="14.1" lengthAdjust="spacingAndGlyphs">57</text><text x="300.9" y="334.2" textLength="14.1" lengthAdjust="spacingAndGlyphs">63</text><text x="325.5" y="334.2" textLength="14.1" lengthAdjust="spacingAndGlyphs">61</text><text x="350.2" y="334.2" textLength="14.1" lengthAdjust="spacingAndGlyphs">62</text><text x="374.9" y="334.2" textLength="14.1" lengthAdjust="spacingAndGlyphs">67</text><text x="399.5" y="334.2" textLength="14.1" lengthAdjust="spacingAndGlyphs">57</text><text x="424.2" y="334.2" textLength="14.1" lengthAdjust="spacingAndGlyphs">54</text><text x="448.8" y="334.2" textLength="14.1" lengthAdjust="spacingAndGlyphs">58</text><text x="473.5" y="334.2" textLength="14.1" lengthAdjust="spacingAndGlyphs">52</text><text x="498.2" y="334.2" textLength="14.1" lengthAdjust="spacingAndGlyphs">41</text><text x="522.8" y="334.2" textLength="14.1" lengthAdjust="spacingAndGlyphs">34</text><text x="547.5" y="334.2" textLength="14.1" lengthAdjust="spacingAndGlyphs">30</text><text x="572.2" y="334.2" textLength="14.1" lengthAdjust="spacingAndGlyphs">41</text><text x="596.8" y="334.2" textLength="14.1" lengthAdjust="spacingAndGlyphs">41</text><text x="621.5" y="334.2" textLength="14.1" lengthAdjust="spacingAndGlyphs">40</text><text x="646.2" y="334.2" textLength="14.1" lengthAdjust="spacingAndGlyphs">52</text><text x="670.8" y="334.2" textLength="14.1" lengthAdjust="spacingAndGlyphs">57</text><text x="695.5" y="334.2" textLength="14.1" lengthAdjust="spacingAndGlyphs">62</text><text x="720.2" y="334.2" textLength="14.1" lengthAdjust="spacingAndGlyphs">64</text><text x="744.8" y="334.2" textLength="14.1" lengthAdjust="spacingAndGlyphs">59</text><text x="769.5" y="334.2" textLength="14.1" lengthAdjust="spacingAndGlyphs">51</text><text x="794.2" y="334.2" textLength="14.1" lengthAdjust="spacingAndGlyphs">43</text><text x="818.8" y="334.2" textLength="14.1" lengthAdjust="spacingAndGlyphs">11</text><text x="78.9" y="362.7" textLength="14.1" lengthAdjust="spacingAndGlyphs">70</text><text x="103.5" y="362.7" textLength="14.1" lengthAdjust="spacingAndGlyphs">70</text><text x="128.2" y="362.7" textLength="14.1" lengthAdjust="spacingAndGlyphs">71</text><text x="152.9" y="362.7" textLength="14.1" lengthAdjust="spacingAndGlyphs">57</text><text x="177.5" y="362.7" textLength="14.1" lengthAdjust="spacingAndGlyphs">51</text><text x="202.2" y="362.7" textLength="14.1" lengthAdjust="spacingAndGlyphs">46</text><text x="226.9" y="362.7" textLength="14.1" lengthAdjust="spacingAndGlyphs">62</text><text x="251.5" y="362.7" textLength="14.1" lengthAdjust="spacingAndGlyphs">59</text><text x="276.2" y="362.7" textLength="14.1" lengthAdjust="spacingAndGlyphs">54</text><text x="300.9" y="362.7" textLength="14.1" lengthAdjust="spacingAndGlyphs">52</text><text x="325.5" y="362.7" textLength="14.1" lengthAdjust="spacingAndGlyphs">46</text><text x="350.2" y="362.7" textLength="14.1" lengthAdjust="spacingAndGlyphs">41</text><text x="374.9" y="362.7" textLength="14.1" lengthAdjust="spacingAndGlyphs">46</text><text x="399.5" y="362.7" textLength="14.1" lengthAdjust="spacingAndGlyphs">50</text><text x="424.2" y="362.7" textLength="14.1" lengthAdjust="spacingAndGlyphs">44</text><text x="448.8" y="362.7" textLength="14.1" lengthAdjust="spacingAndGlyphs">48</text><text x="473.5" y="362.7" textLength="14.1" lengthAdjust="spacingAndGlyphs">44</text><text x="498.2" y="362.7" textLength="14.1" lengthAdjust="spacingAndGlyphs">35</text><text x="522.8" y="362.7" textLength="14.1" lengthAdjust="spacingAndGlyphs">40</text><text x="547.5" y="362.7" textLength="14.1" lengthAdjust="spacingAndGlyphs">43</text><text x="572.2" y="362.7" textLength="14.1" lengthAdjust="spacingAndGlyphs">47</text><text x="596.8" y="362.7" textLength="14.1" lengthAdjust="spacingAndGlyphs">52</text><text x="621.5" y="362.7" textLength="14.1" lengthAdjust="spacingAndGlyphs">51</text><text x="646.2" y="362.7" textLength="14.1" lengthAdjust="spacingAndGlyphs">36</text><text x="670.8" y="362.7" textLength="14.1" lengthAdjust="spacingAndGlyphs">32</text><text x="720.2" y="362.7" textLength="14.1" lengthAdjust="spacingAndGlyphs">54</text><text x="744.8" y="362.7" textLength="14.1" lengthAdjust="spacingAndGlyphs">42</text><text x="769.5" y="362.7" textLength="14.1" lengthAdjust="spacingAndGlyphs">43</text><text x="794.2" y="362.7" textLength="14.1" lengthAdjust="spacingAndGlyphs">45</text><text x="818.8" y="362.7" textLength="14.1" lengthAdjust="spacingAndGlyphs">32</text><text x="843.5" y="362.7" textLength="14.1" lengthAdjust="spacingAndGlyphs">45</text><text x="868.2" y="362.7" textLength="14.1" lengthAdjust="spacingAndGlyphs">44</text><text x="54.2" y="391.2" textLength="14.1" lengthAdjust="spacingAndGlyphs">48</text><text x="78.9" y="391.2" textLength="14.1" lengthAdjust="spacingAndGlyphs">61</text><text x="103.5" y="391.2" textLength="14.1" lengthAdjust="spacingAndGlyphs">62</text><text x="128.2" y="391.2" textLength="14.1" lengthAdjust="spacingAndGlyphs">58</text><text x="152.9" y="391.2" textLength="14.1" lengthAdjust="spacingAndGlyphs">56</text><text x="177.5" y="391.2" textLength="14.1" lengthAdjust="spacingAndGlyphs">52</text><text x="202.2" y="391.2" textLength="14.1" lengthAdjust="spacingAndGlyphs">49</text><text x="226.9" y="391.2" textLength="14.1" lengthAdjust="spacingAndGlyphs">46</text><text x="251.5" y="391.2" textLength="14.1" lengthAdjust="spacingAndGlyphs">47</text><text x="276.2" y="391.2" textLength="14.1" lengthAdjust="spacingAndGlyphs">55</text><text x="300.9" y="391.2" textLength="14.1" lengthAdjust="spacingAndGlyphs">51</text><text x="325.5" y="391.2" textLength="14.1" lengthAdjust="spacingAndGlyphs">43</text><text x="350.2" y="391.2" textLength="14.1" lengthAdjust="spacingAndGlyphs">42</text><text x="374.9" y="391.2" textLength="14.1" lengthAdjust="spacingAndGlyphs">43</text><text x="399.5" y="391.2" textLength="14.1" lengthAdjust="spacingAndGlyphs">44</text><text x="424.2" y="391.2" textLength="14.1" lengthAdjust="spacingAndGlyphs">57</text><text x="448.8" y="391.2" textLength="14.1" lengthAdjust="spacingAndGlyphs">60</text><text x="473.5" y="391.2" textLength="14.1" lengthAdjust="spacingAndGlyphs">66</text><text x="498.2" y="391.2" textLength="14.1" lengthAdjust="spacingAndGlyphs">57</text><text x="522.8" y="391.2" textLength="14.1" lengthAdjust="spacingAndGlyphs">63</text><text x="547.5" y="391.2" textLength="14.1" lengthAdjust="spacingAndGlyphs">65</text><text x="572.2" y="391.2" textLength="14.1" lengthAdjust="spacingAndGlyphs">57</text><text x="596.8" y="391.2" textLength="14.1" lengthAdjust="spacingAndGlyphs">54</text><text x="621.5" y="391.2" textLength="14.1" lengthAdjust="spacingAndGlyphs">46</text><text x="646.2" y="391.2" textLength="14.1" lengthAdjust="spacingAndGlyphs">30</text><text x="670.8" y="391.2" textLength="14.1" lengthAdjust="spacingAndGlyphs">23</text><text x="744.8" y="391.2" textLength="14.1" lengthAdjust="spacingAndGlyphs">45</text><text x="769.5" y="391.2" textLength="14.1" lengthAdjust="spacingAndGlyphs">52</text><text x="794.2" y="391.2" textLength="14.1" lengthAdjust="spacingAndGlyphs">54</text><text x="818.8" y="391.2" textLength="14.1" lengthAdjust="spacingAndGlyphs">60</text><text x="843.5" y="391.2" textLength="14.1" lengthAdjust="spacingAndGlyphs">56</text><text x="868.2" y="391.2" textLength="14.1" lengthAdjust="spacingAndGlyphs">47</text><text x="892.8" y="391.2" textLength="14.1" lengthAdjust="spacingAndGlyphs">33</text><text x="54.2" y="419.7" textLength="14.1" lengthAdjust="spacingAndGlyphs">61</text><text x="78.9" y="419.7" textLength="14.1" lengthAdjust="spacingAndGlyphs">56</text><text x="103.5" y="419.7" textLength="14.1" lengthAdjust="spacingAndGlyphs">56</text><text x="128.2" y="419.7" textLength="14.1" lengthAdjust="spacingAndGlyphs">54</text><text x="152.9" y="419.7" textLength="14.1" lengthAdjust="spacingAndGlyphs">56</text><text x="177.5" y="419.7" textLength="14.1" lengthAdjust="spacingAndGlyphs">50</text><text x="202.2" y="419.7" textLength="14.1" lengthAdjust="spacingAndGlyphs">46</text><text x="226.9" y="419.7" textLength="14.1" lengthAdjust="spacingAndGlyphs">58</text><text x="251.5" y="419.7" textLength="14.1" lengthAdjust="spacingAndGlyphs">43</text><text x="276.2" y="419.7" textLength="14.1" lengthAdjust="spacingAndGlyphs">46</text><text x="300.9" y="419.7" textLength="14.1" lengthAdjust="spacingAndGlyphs">52</text><text x="325.5" y="419.7" textLength="14.1" lengthAdjust="spacingAndGlyphs">49</text><text x="350.2" y="419.7" textLength="14.1" lengthAdjust="spacingAndGlyphs">49</text><text x="374.9" y="419.7" textLength="14.1" lengthAdjust="spacingAndGlyphs">51</text><text x="399.5" y="419.7" textLength="14.1" lengthAdjust="spacingAndGlyphs">44</text><text x="424.2" y="419.7" textLength="14.1" lengthAdjust="spacingAndGlyphs">46</text><text x="448.8" y="419.7" textLength="14.1" lengthAdjust="spacingAndGlyphs">52</text><text x="473.5" y="419.7" textLength="14.1" lengthAdjust="spacingAndGlyphs">56</text><text x="498.2" y="419.7" textLength="14.1" lengthAdjust="spacingAndGlyphs">64</text><text x="522.8" y="419.7" textLength="14.1" lengthAdjust="spacingAndGlyphs">66</text><text x="547.5" y="419.7" textLength="14.1" lengthAdjust="spacingAndGlyphs">66</text><text x="572.2" y="419.7" textLength="14.1" lengthAdjust="spacingAndGlyphs">65</text><text x="596.8" y="419.7" textLength="14.1" lengthAdjust="spacingAndGlyphs">56</text><text x="621.5" y="419.7" textLength="14.1" lengthAdjust="spacingAndGlyphs">42</text><text x="646.2" y="419.7" textLength="14.1" lengthAdjust="spacingAndGlyphs">33</text><text x="670.8" y="419.7" textLength="14.1" lengthAdjust="spacingAndGlyphs">24</text><text x="769.5" y="419.7" textLength="14.1" lengthAdjust="spacingAndGlyphs">57</text><text x="794.2" y="419.7" textLength="14.1" lengthAdjust="spacingAndGlyphs">62</text><text x="818.8" y="419.7" textLength="14.1" lengthAdjust="spacingAndGlyphs">60</text><text x="843.5" y="419.7" textLength="14.1" lengthAdjust="spacingAndGlyphs">38</text><text x="868.2" y="419.7" textLength="14.1" lengthAdjust="spacingAndGlyphs">27</text><text x="892.8" y="419.7" textLength="14.1" lengthAdjust="spacingAndGlyphs">19</text><text x="54.2" y="448.2" textLength="14.1" lengthAdjust="spacingAndGlyphs">54</text><text x="78.9" y="448.2" textLength="14.1" lengthAdjust="spacingAndGlyphs">53</text><text x="103.5" y="448.2" textLength="14.1" lengthAdjust="spacingAndGlyphs">51</text><text x="128.2" y="448.2" textLength="14.1" lengthAdjust="spacingAndGlyphs">49</text><text x="152.9" y="448.2" textLength="14.1" lengthAdjust="spacingAndGlyphs">50</text><text x="177.5" y="448.2" textLength="14.1" lengthAdjust="spacingAndGlyphs">44</text><text x="202.2" y="448.2" textLength="14.1" lengthAdjust="spacingAndGlyphs">43</text><text x="226.9" y="448.2" textLength="14.1" lengthAdjust="spacingAndGlyphs">45</text><text x="251.5" y="448.2" textLength="14.1" lengthAdjust="spacingAndGlyphs">35</text><text x="325.5" y="448.2" textLength="14.1" lengthAdjust="spacingAndGlyphs">48</text><text x="350.2" y="448.2" textLength="14.1" lengthAdjust="spacingAndGlyphs">52</text><text x="374.9" y="448.2" textLength="14.1" lengthAdjust="spacingAndGlyphs">51</text><text x="399.5" y="448.2" textLength="14.1" lengthAdjust="spacingAndGlyphs">43</text><text x="424.2" y="448.2" textLength="14.1" lengthAdjust="spacingAndGlyphs">44</text><text x="448.8" y="448.2" textLength="14.1" lengthAdjust="spacingAndGlyphs">40</text><text x="473.5" y="448.2" textLength="14.1" lengthAdjust="spacingAndGlyphs">42</text><text x="498.2" y="448.2" textLength="14.1" lengthAdjust="spacingAndGlyphs">44</text><text x="522.8" y="448.2" textLength="14.1" lengthAdjust="spacingAndGlyphs">50</text><text x="547.5" y="448.2" textLength="14.1" lengthAdjust="spacingAndGlyphs">53</text><text x="572.2" y="448.2" textLength="14.1" lengthAdjust="spacingAndGlyphs">54</text><text x="596.8" y="448.2" textLength="14.1" lengthAdjust="spacingAndGlyphs">49</text><text x="621.5" y="448.2" textLength="14.1" lengthAdjust="spacingAndGlyphs">40</text><text x="646.2" y="448.2" textLength="14.1" lengthAdjust="spacingAndGlyphs">30</text><text x="670.8" y="448.2" textLength="14.1" lengthAdjust="spacingAndGlyphs">18</text><text x="744.8" y="448.2" textLength="14.1" lengthAdjust="spacingAndGlyphs">41</text><text x="769.5" y="448.2" textLength="14.1" lengthAdjust="spacingAndGlyphs">52</text><text x="794.2" y="448.2" textLength="14.1" lengthAdjust="spacingAndGlyphs">46</text><text x="818.8" y="448.2" textLength="14.1" lengthAdjust="spacingAndGlyphs">47</text><text x="843.5" y="448.2" textLength="14.1" lengthAdjust="spacingAndGlyphs">39</text><text x="868.2" y="448.2" textLength="14.1" lengthAdjust="spacingAndGlyphs">28</text><text x="892.8" y="448.2" textLength="14.1" lengthAdjust="spacingAndGlyphs">23</text><text x="54.2" y="476.7" textLength="14.1" lengthAdjust="spacingAndGlyphs">42</text><text x="78.9" y="476.7" textLength="14.1" lengthAdjust="spacingAndGlyphs">38</text><text x="103.5" y="476.7" textLength="14.1" lengthAdjust="spacingAndGlyphs">35</text><text x="128.2" y="476.7" textLength="14.1" lengthAdjust="spacingAndGlyphs">29</text><text x="152.9" y="476.7" textLength="14.1" lengthAdjust="spacingAndGlyphs">28</text><text x="177.5" y="476.7" textLength="14.1" lengthAdjust="spacingAndGlyphs">26</text><text x="202.2" y="476.7" textLength="14.1" lengthAdjust="spacingAndGlyphs">22</text><text x="226.9" y="476.7" textLength="14.1" lengthAdjust="spacingAndGlyphs">28</text><text x="251.5" y="476.7" textLength="14.1" lengthAdjust="spacingAndGlyphs">30</text><text x="276.2" y="476.7" textLength="14.1" lengthAdjust="spacingAndGlyphs">24</text><text x="300.9" y="476.7" textLength="14.1" lengthAdjust="spacingAndGlyphs">23</text><text x="325.5" y="476.7" textLength="14.1" lengthAdjust="spacingAndGlyphs">24</text><text x="350.2" y="476.7" textLength="14.1" lengthAdjust="spacingAndGlyphs">37</text><text x="374.9" y="476.7" textLength="14.1" lengthAdjust="spacingAndGlyphs">36</text><text x="399.5" y="476.7" textLength="14.1" lengthAdjust="spacingAndGlyphs">37</text><text x="424.2" y="476.7" textLength="14.1" lengthAdjust="spacingAndGlyphs">36</text><text x="448.8" y="476.7" textLength="14.1" lengthAdjust="spacingAndGlyphs">34</text><text x="473.5" y="476.7" textLength="14.1" lengthAdjust="spacingAndGlyphs">33</text><text x="498.2" y="476.7" textLength="14.1" lengthAdjust="spacingAndGlyphs">29</text><text x="522.8" y="476.7" textLength="14.1" lengthAdjust="spacingAndGlyphs">31</text><text x="547.5" y="476.7" textLength="14.1" lengthAdjust="spacingAndGlyphs">37</text><text x="572.2" y="476.7" textLength="14.1" lengthAdjust="spacingAndGlyphs">28</text><text x="596.8" y="476.7" textLength="14.1" lengthAdjust="spacingAndGlyphs">25</text><text x="621.5" y="476.7" textLength="14.1" lengthAdjust="spacingAndGlyphs">27</text><text x="646.2" y="476.7" textLength="14.1" lengthAdjust="spacingAndGlyphs">31</text><text x="670.8" y="476.7" textLength="14.1" lengthAdjust="spacingAndGlyphs">22</text><text x="720.2" y="476.7" textLength="14.1" lengthAdjust="spacingAndGlyphs">29</text><text x="744.8" y="476.7" textLength="14.1" lengthAdjust="spacingAndGlyphs">39</text><text x="769.5" y="476.7" textLength="14.1" lengthAdjust="spacingAndGlyphs">34</text><text x="794.2" y="476.7" textLength="14.1" lengthAdjust="spacingAndGlyphs">29</text><text x="818.8" y="476.7" textLength="14.1" lengthAdjust="spacingAndGlyphs">30</text><text x="843.5" y="476.7" textLength="14.1" lengthAdjust="spacingAndGlyphs">27</text><text x="868.2" y="476.7" textLength="14.1" lengthAdjust="spacingAndGlyphs">23</text><text x="892.8" y="476.7" textLength="14.1" lengthAdjust="spacingAndGlyphs">25</text><text x="917.5" y="476.7" textLength="14.1" lengthAdjust="spacingAndGlyphs">29</text><text x="54.2" y="505.2" textLength="14.1" lengthAdjust="spacingAndGlyphs">14</text><text x="78.9" y="505.2" textLength="14.1" lengthAdjust="spacingAndGlyphs">13</text><text x="103.5" y="505.2" textLength="14.1" lengthAdjust="spacingAndGlyphs">22</text><text x="128.2" y="505.2" textLength="14.1" lengthAdjust="spacingAndGlyphs">16</text><text x="152.9" y="505.2" textLength="14.1" lengthAdjust="spacingAndGlyphs">14</text><text x="177.5" y="505.2" textLength="14.1" lengthAdjust="spacingAndGlyphs">11</text><text x="202.2" y="505.2" textLength="14.1" lengthAdjust="spacingAndGlyphs">13</text><text x="226.9" y="505.2" textLength="14.1" lengthAdjust="spacingAndGlyphs">12</text><text x="251.5" y="505.2" textLength="14.1" lengthAdjust="spacingAndGlyphs">15</text><text x="276.2" y="505.2" textLength="14.1" lengthAdjust="spacingAndGlyphs">21</text><text x="300.9" y="505.2" textLength="14.1" lengthAdjust="spacingAndGlyphs">18</text><text x="325.5" y="505.2" textLength="14.1" lengthAdjust="spacingAndGlyphs">25</text><text x="350.2" y="505.2" textLength="14.1" lengthAdjust="spacingAndGlyphs">21</text><text x="374.9" y="505.2" textLength="14.1" lengthAdjust="spacingAndGlyphs">20</text><text x="399.5" y="505.2" textLength="14.1" lengthAdjust="spacingAndGlyphs">21</text><text x="424.2" y="505.2" textLength="14.1" lengthAdjust="spacingAndGlyphs">19</text><text x="448.8" y="505.2" textLength="14.1" lengthAdjust="spacingAndGlyphs">18</text><text x="473.5" y="505.2" textLength="14.1" lengthAdjust="spacingAndGlyphs">20</text><text x="498.2" y="505.2" textLength="14.1" lengthAdjust="spacingAndGlyphs">19</text><text x="522.8" y="505.2" textLength="14.1" lengthAdjust="spacingAndGlyphs">12</text><text x="547.5" y="505.2" textLength="14.1" lengthAdjust="spacingAndGlyphs">16</text><text x="572.2" y="505.2" textLength="14.1" lengthAdjust="spacingAndGlyphs">13</text><text x="596.8" y="505.2" textLength="14.1" lengthAdjust="spacingAndGlyphs">16</text><text x="621.5" y="505.2" textLength="14.1" lengthAdjust="spacingAndGlyphs">20</text><text x="646.2" y="505.2" textLength="14.1" lengthAdjust="spacingAndGlyphs">19</text><text x="670.8" y="505.2" textLength="14.1" lengthAdjust="spacingAndGlyphs">18</text><text x="695.5" y="505.2" textLength="14.1" lengthAdjust="spacingAndGlyphs">19</text><text x="720.2" y="505.2" textLength="14.1" lengthAdjust="spacingAndGlyphs">20</text><text x="744.8" y="505.2" textLength="14.1" lengthAdjust="spacingAndGlyphs">25</text><text x="769.5" y="505.2" textLength="14.1" lengthAdjust="spacingAndGlyphs">18</text><text x="794.2" y="505.2" textLength="14.1" lengthAdjust="spacingAndGlyphs">22</text><text x="818.8" y="505.2" textLength="14.1" lengthAdjust="spacingAndGlyphs">27</text><text x="843.5" y="505.2" textLength="14.1" lengthAdjust="spacingAndGlyphs">19</text><text x="868.2" y="505.2" textLength="14.1" lengthAdjust="spacingAndGlyphs">12</text><text x="892.8" y="505.2" textLength="14.1" lengthAdjust="spacingAndGlyphs">13</text><text x="917.5" y="505.2" textLength="14.1" lengthAdjust="spacingAndGlyphs">12</text><text x="50.0" y="533.7" textLength="7.0" lengthAdjust="spacingAndGlyphs">7</text><text x="91.2" y="533.7" textLength="14.1" lengthAdjust="spacingAndGlyphs">15</text><text x="140.5" y="533.7" textLength="14.1" lengthAdjust="spacingAndGlyphs">12</text><text x="189.9" y="533.7" textLength="7.0" lengthAdjust="spacingAndGlyphs">6</text><text x="239.2" y="533.7" textLength="14.1" lengthAdjust="spacingAndGlyphs">15</text><text x="288.5" y="533.7" textLength="7.0" lengthAdjust="spacingAndGlyphs">8</text><text x="337.9" y="533.7" textLength="14.1" lengthAdjust="spacingAndGlyphs">17</text><text x="387.2" y="533.7" textLength="14.1" lengthAdjust="spacingAndGlyphs">14</text><text x="436.5" y="533.7" textLength="7.0" lengthAdjust="spacingAndGlyphs">7</text><text x="485.8" y="533.7" textLength="14.1" lengthAdjust="spacingAndGlyphs">11</text><text x="535.2" y="533.7" textLength="7.0" lengthAdjust="spacingAndGlyphs">7</text><text x="584.5" y="533.7" textLength="14.1" lengthAdjust="spacingAndGlyphs">12</text><text x="633.8" y="533.7" textLength="14.1" lengthAdjust="spacingAndGlyphs">16</text><text x="683.2" y="533.7" textLength="14.1" lengthAdjust="spacingAndGlyphs">19</text><text x="732.5" y="533.7" textLength="14.1" lengthAdjust="spacingAndGlyphs">16</text><text x="781.8" y="533.7" textLength="14.1" lengthAdjust="spacingAndGlyphs">12</text><text x="831.2" y="533.7" textLength="14.1" lengthAdjust="spacingAndGlyphs">13</text><text x="880.5" y="533.7" textLength="14.1" lengthAdjust="spacingAndGlyphs">12</text><text x="923.0" y="533.7" textLength="7.0" lengthAdjust="spacingAndGlyphs">7</text><text x="50.0" y="562.2" textLength="7.0" lengthAdjust="spacingAndGlyphs">9</text><text x="91.2" y="562.2" textLength="7.0" lengthAdjust="spacingAndGlyphs">6</text><text x="140.5" y="562.2" textLength="7.0" lengthAdjust="spacingAndGlyphs">6</text><text x="189.9" y="562.2" textLength="7.0" lengthAdjust="spacingAndGlyphs">4</text><text x="239.2" y="562.2" textLength="7.0" lengthAdjust="spacingAndGlyphs">8</text><text x="288.5" y="562.2" textLength="7.0" lengthAdjust="spacingAndGlyphs">9</text><text x="337.9" y="562.2" textLength="7.0" lengthAdjust="spacingAndGlyphs">5</text><text x="387.2" y="562.2" textLength="7.0" lengthAdjust="spacingAndGlyphs">5</text><text x="535.2" y="562.2" textLength="7.0" lengthAdjust="spacingAndGlyphs">1</text><text x="633.8" y="562.2" textLength="7.0" lengthAdjust="spacingAndGlyphs">5</text><text x="683.2" y="562.2" textLength="7.0" lengthAdjust="spacingAndGlyphs">3</text><text x="732.5" y="562.2" textLength="7.0" lengthAdjust="spacingAndGlyphs">8</text><text x="781.8" y="562.2" textLength="7.0" lengthAdjust="spacingAndGlyphs">9</text><text x="831.2" y="562.2" textLength="7.0" lengthAdjust="spacingAndGlyphs">6</text><text x="880.5" y="562.2" textLength="7.0" lengthAdjust="spacingAndGlyphs">5</text><text x="923.0" y="562.2" textLength="7.0" lengthAdjust="spacingAndGlyphs">9</text><text x="510.5" y="590.7" textLength="7.0" lengthAdjust="spacingAndGlyphs">5</text><text x="975.8" y="134.7" textLength="7.0" lengthAdjust="spacingAndGlyphs">4</text><text x="975.8" y="163.2" textLength="7.0" lengthAdjust="spacingAndGlyphs">6</text><text x="975.8" y="191.7" textLength="14.1" lengthAdjust="spacingAndGlyphs">14</text><text x="975.8" y="220.2" textLength="14.1" lengthAdjust="spacingAndGlyphs">14</text><text x="975.8" y="248.7" textLength="14.1" lengthAdjust="spacingAndGlyphs">16</text><text x="975.8" y="277.2" textLength="14.1" lengthAdjust="spacingAndGlyphs">26</text><text x="975.8" y="305.7" textLength="14.1" lengthAdjust="spacingAndGlyphs">40</text><text x="975.8" y="334.2" textLength="14.1" lengthAdjust="spacingAndGlyphs">52</text><text x="975.8" y="362.7" textLength="14.1" lengthAdjust="spacingAndGlyphs">48</text><text x="975.8" y="391.2" textLength="14.1" lengthAdjust="spacingAndGlyphs">53</text><text x="975.8" y="419.7" textLength="14.1" lengthAdjust="spacingAndGlyphs">51</text><text x="975.8" y="448.2" textLength="14.1" lengthAdjust="spacingAndGlyphs">44</text><text x="975.8" y="476.7" textLength="14.1" lengthAdjust="spacingAndGlyphs">31</text><text x="975.8" y="505.2" textLength="14.1" lengthAdjust="spacingAndGlyphs">17</text><text x="975.8" y="533.7" textLength="14.1" lengthAdjust="spacingAndGlyphs">12</text><text x="975.8" y="562.2" textLength="7.0" lengthAdjust="spacingAndGlyphs">6</text><text x="975.8" y="590.7" textLength="7.0" lengthAdjust="spacingAndGlyphs">5</text></g>
<g class="ax"><text x="28.5" y="120.2" text-anchor="end" textLength="27.6" lengthAdjust="spacingAndGlyphs">90°N</text><text x="28.5" y="205.9" text-anchor="end" textLength="27.6" lengthAdjust="spacingAndGlyphs">60°N</text><text x="28.5" y="291.5" text-anchor="end" textLength="27.6" lengthAdjust="spacingAndGlyphs">30°N</text><text x="28.5" y="377.2" text-anchor="end" textLength="11.8" lengthAdjust="spacingAndGlyphs">0°</text><text x="28.5" y="462.9" text-anchor="end" textLength="26.6" lengthAdjust="spacingAndGlyphs">30°S</text><text x="28.5" y="548.5" text-anchor="end" textLength="26.6" lengthAdjust="spacingAndGlyphs">60°S</text><text x="28.5" y="634.2" text-anchor="end" textLength="26.6" lengthAdjust="spacingAndGlyphs">90°S</text><text x="44.9" y="655.2" text-anchor="middle" textLength="26.3" lengthAdjust="spacingAndGlyphs">30°E</text><text x="118.3" y="655.2" text-anchor="middle" textLength="27.0" lengthAdjust="spacingAndGlyphs">60°E</text><text x="191.7" y="655.2" text-anchor="middle" textLength="26.3" lengthAdjust="spacingAndGlyphs">90°E</text><text x="265.1" y="655.2" text-anchor="middle" textLength="32.3" lengthAdjust="spacingAndGlyphs">120°E</text><text x="338.5" y="655.2" text-anchor="middle" textLength="33.4" lengthAdjust="spacingAndGlyphs">150°E</text><text x="411.9" y="655.2" text-anchor="middle" textLength="25.3" lengthAdjust="spacingAndGlyphs">180°</text><text x="485.3" y="655.2" text-anchor="middle" textLength="38.5" lengthAdjust="spacingAndGlyphs">150°W</text><text x="558.7" y="655.2" text-anchor="middle" textLength="37.5" lengthAdjust="spacingAndGlyphs">120°W</text><text x="632.1" y="655.2" text-anchor="middle" textLength="32.6" lengthAdjust="spacingAndGlyphs">90°W</text><text x="705.5" y="655.2" text-anchor="middle" textLength="31.6" lengthAdjust="spacingAndGlyphs">60°W</text><text x="778.9" y="655.2" text-anchor="middle" textLength="31.6" lengthAdjust="spacingAndGlyphs">30°W</text><text x="852.3" y="655.2" text-anchor="middle" textLength="11.6" lengthAdjust="spacingAndGlyphs">0°</text><text x="925.7" y="655.2" text-anchor="middle" textLength="26.5" lengthAdjust="spacingAndGlyphs">30°E</text></g>
<text x="485.9" y="27.5" text-anchor="middle" font-size="17" font-weight="bold" textLength="76" lengthAdjust="spacingAndGlyphs">Cumulus</text>
<text x="485.6" y="49.7" text-anchor="middle" font-size="14" font-weight="bold" textLength="205.8">Frequency of Occurrence (%)</text>
<text x="45" y="98.6" font-size="13" textLength="105.3" lengthAdjust="spacingAndGlyphs">April (1954 - 1997)</text>
<text x="926.2" y="98.6" font-size="13" text-anchor="end" textLength="135" lengthAdjust="spacingAndGlyphs">Ship Observations Only</text>
<text x="975.2" y="96.7" font-size="9.2" text-anchor="middle">ZONAL</text>
<text x="976.6" y="109.8" font-size="9.2" text-anchor="middle">AVERAGE</text>
<text x="485" y="686.8" font-size="13" text-anchor="middle" textLength="229.3" lengthAdjust="spacingAndGlyphs" xml:space="preserve">GLOBAL AVERAGE (OCEAN)   33.8 %</text>
<text x="485" y="719.6" font-size="13" text-anchor="middle" textLength="479.3" lengthAdjust="spacingAndGlyphs">(File name = 19_OMMF.04.low, MGRP = 19035, TYPE = 14, PCODE = 2, SN = 4)</text>
</svg>
</body></html>
